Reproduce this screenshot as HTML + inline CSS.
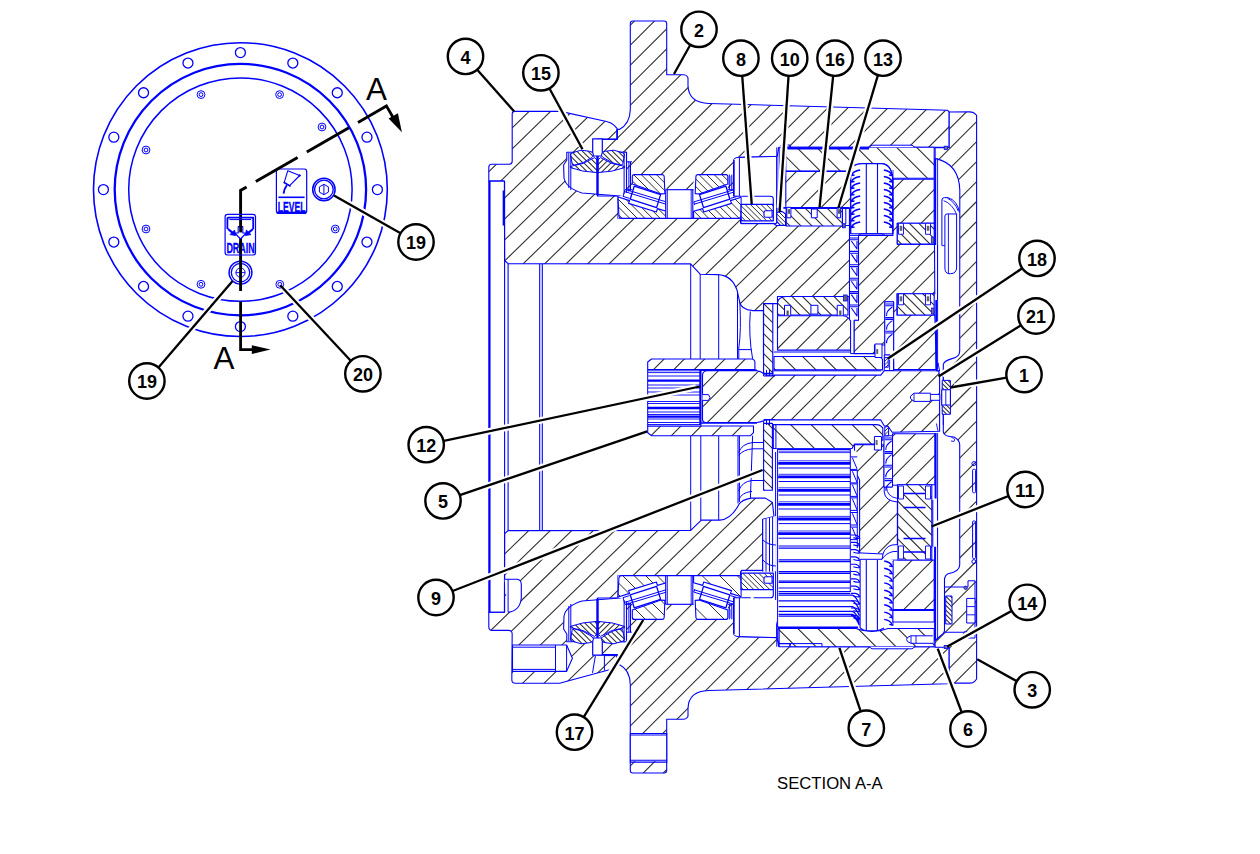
<!DOCTYPE html>
<html><head><meta charset="utf-8"><title>Final drive section</title>
<style>
html,body{margin:0;padding:0;background:#fff;}
body{width:1260px;height:854px;overflow:hidden;font-family:"Liberation Sans",sans-serif;}
svg{display:block;}
text{font-family:"Liberation Sans",sans-serif;}
</style></head><body>
<svg width="1260" height="854" viewBox="0 0 1260 854">
<defs>
<clipPath id="c1"><path d="M504.4 181L488.8 181L488.8 167.2Q488.8 164.2 491.8 164.2L509.2 164.2Q512.2 164.2 512.2 161.2L512.2 113.9Q512.2 111.4 514.7 111.4L560 111.4L566 112.6L606.51 121.43Q611.4 122.5 614.2 125.45L617 128.4L617.2 139.4L597.5 139.4L597.5 196L618 196L618 218.4L740.6 218.4L740.6 223.2L773.2 223.2L776.4 225.5L849.5 225.5L849.5 296.5L777.5 296.5L777.5 303.6L763.8 303.6L763.4 310.6L752.9 310.6Q741 309.5 739.7 301.8L737.1 290.4Q732 275.2 717.8 274.6L700.2 274.2L690.6 263.9L508.1 263.7L504.6 260.5Z"/></clipPath>
<clipPath id="c2"><path d="M504.4 612.2L488.8 612.2L488.8 626.9Q488.8 630.4 492.3 630.4L508.7 630.4Q512.2 630.4 512.17 633.9L511.83 679.8Q511.8 683.3 515.3 683.3L559.6 683.3L609.4 669.8Q615.5 668 616.9 664.5L617.2 654.6L597.5 654.6L597.5 598L618 598L618 575.6L740.6 575.6L740.6 571.6L762.7 571.6L762.7 519.4L774 516.6L772.4 502.5L765.4 498.1L751.3 498.1Q742 499.5 739 504.3Q731 519.6 719.7 520.1L701.3 520.1L690.7 530.4L508.1 530.6L504.6 533.6Z"/></clipPath>
<clipPath id="c3"><path d="M630.3 23.5Q630.3 21 632.8 21L664.2 21Q666.7 21 666.7 23.5L666.7 74.7L683.5 74.7Q686 74.7 687 76.2L688 77.7L688 85.6Q688.5 103 708.9 103.5L947.6 110.3L949.2 112L949.2 147.3L778.8 147.3L777.2 156.3L740 157.41Q737 157.5 735.6 158.75L734.2 160L734.2 189.7L626.5 189.7L626.5 152.3L597.5 152.3L597.5 139.4L617.2 139.4L617.3 129.4L619.3 129.4Q630 124 630.3 109.5Z"/></clipPath>
<clipPath id="c4"><path d="M630.3 770.5Q630.3 773 632.8 773L664.2 773Q666.7 773 666.7 770.5L666.7 719.3L683.5 719.3Q686 719.3 687 717.8L688 716.3L688 708.4Q688.5 691 708.9 690.5L947.6 683.7L949.2 682L949.2 646.7L778.8 646.7L777.2 637.7L740 636.59Q737 636.5 735.6 635.25L734.2 634L734.2 604.3L626.5 604.3L626.5 641.7L597.5 641.7L597.5 654.6L617.2 654.6L617.3 664.6L619.3 664.6Q630 670 630.3 684.5Z"/></clipPath>
<clipPath id="c5"><path d="M949.2 112L969.7 111.83Q973.2 111.8 974.9 113.6L976.6 115.4L976.6 679L974.9 681.05Q973.2 683.1 969.7 683.1L949.2 683.1L949.2 647.2L935.1 647.2L935.1 640.5L943.3 633.5L944.5 631L944.5 578.5Q945.5 574.8 948 573.8Q959.7 571.5 959.7 565L959.7 444.5Q959.6 440 954 437Q943.6 436.5 943.3 432L943.3 364.5Q943.8 361 952 358.6Q959.7 357 959.7 351L959.8 190Q959 164 936 158.6L935.1 158.4L935.1 147.6L949.2 147.6Z"/></clipPath>
<clipPath id="c6"><path d="M785.8 147.3L934.2 147.3L934.2 178.3L892.6 178.3Q891.5 164 881 163.6L862 163.6Q851.5 164 850.8 171.3L785.8 171.3Z"/></clipPath>
<clipPath id="c7"><path d="M777.9 628.5L856 628.5Q864 631.5 872 631.5Q880 631.5 888 628.5L934.2 628.5L934.2 646.7L790 646.7L790 643.6L779 643.6L777.9 640Z"/></clipPath>
<clipPath id="c8"><path d="M785.8 171.3L850.8 171.3L850.8 208L785.8 208Z"/></clipPath>
<clipPath id="c9"><path d="M702.5 375.7Q702.5 370.7 707.5 370.7L757 370.7Q761 371 765.7 375.1L880.8 375.1L884.3 370.7L938.7 370.7L939.6 376.9L939.6 431.3L892.2 432.2L887.8 426L884.3 426L880.8 419.9L765.7 419.9Q761 422 757 422.5L705.5 422.5Q702.5 422.5 702.5 419.5Z"/></clipPath>
<clipPath id="c10"><path d="M892.9 179.2L934.2 179.2L934.2 223.3L897.3 223.3L897.3 244.1L934.5 244.1L934.8 293.8L897 293.8L897 315L934.8 315L936.6 369.5L893.6 369.5L893.6 301.8L884.8 301.8L884.8 345L874.5 345L874.5 353.6L854 353.6L854 320.2L858.5 320.2L858.5 235.4L892.9 235.4Z"/></clipPath>
<clipPath id="c11"><path d="M854.5 444.8L884 444.8L884 487L892.5 487L892.5 433.8L935 433.8L935 484.7L897.4 484.7L897.4 560L892.9 560L884 553.7L859.6 553.7L859.6 480L854.5 470Z"/></clipPath>
<clipPath id="c12"><path d="M892.9 560L934.2 560L934.2 610L892.9 610Z"/></clipPath>
<clipPath id="c13"><path d="M570.59 155.46Q570.2 153.5 572.11 152.92L581 150.2L589.72 151.29Q592.2 151.6 593.2 153.89L593.2 153.91Q594.2 156.2 592.03 157.44L583 162.6L574.52 165.05Q572.6 165.6 572.21 163.64Z"/></clipPath>
<clipPath id="c14"><path d="M624.41 155.46Q624.8 153.5 622.89 152.92L614 150.2L605.28 151.29Q602.8 151.6 601.8 153.89L601.8 153.91Q600.8 156.2 602.97 157.44L612 162.6L620.48 165.05Q622.4 165.6 622.79 163.64Z"/></clipPath>
<clipPath id="c15"><path d="M570.4 166.4L583.2 163.4L594.6 157.6L597.1 160L597.1 172.6Q582 172 570.4 167.6Z"/></clipPath>
<clipPath id="c16"><path d="M624.6 166.4L611.8 163.4L600.4 157.6L597.9 160L597.9 172.6Q613 172 624.6 167.6Z"/></clipPath>
<clipPath id="c17"><path d="M570.59 638.54Q570.2 640.5 572.11 641.08L581 643.8L589.72 642.71Q592.2 642.4 593.2 640.11L593.2 640.09Q594.2 637.8 592.03 636.56L583 631.4L574.52 628.95Q572.6 628.4 572.21 630.36Z"/></clipPath>
<clipPath id="c18"><path d="M624.41 638.54Q624.8 640.5 622.89 641.08L614 643.8L605.28 642.71Q602.8 642.4 601.8 640.11L601.8 640.09Q600.8 637.8 602.97 636.56L612 631.4L620.48 628.95Q622.4 628.4 622.79 630.36Z"/></clipPath>
<clipPath id="c19"><path d="M570.4 627.6L583.2 630.6L594.6 636.4L597.1 634L597.1 621.4Q582 622 570.4 626.4Z"/></clipPath>
<clipPath id="c20"><path d="M624.6 627.6L611.8 630.6L600.4 636.4L597.9 634L597.9 621.4Q613 622 624.6 626.4Z"/></clipPath>
<clipPath id="c21"><path d="M632.3 176.6Q632.3 174.6 634.3 174.6L662.1 174.6Q664.1 174.6 664.18 176.6L664.9 193.6L661 193.9L633.1 184.3L632.3 184Z"/></clipPath>
<clipPath id="c22"><path d="M618.05 198Q618 197 618.96 197.3L629.6 200.6L628.6 203.4L656.4 212L657.4 208.6L666.5 211.2L666.5 218.4L621.5 218.4Q619 218.4 618.88 215.9Z"/></clipPath>
<clipPath id="c23"><path d="M727.8 176.6Q727.8 174.6 725.8 174.6L698 174.6Q696 174.6 695.92 176.6L695.2 193.6L699.1 193.9L727 184.3L727.8 184Z"/></clipPath>
<clipPath id="c24"><path d="M742.05 198Q742.1 197 741.14 197.3L730.5 200.6L731.5 203.4L703.7 212L702.7 208.6L693.6 211.2L693.6 218.4L738.6 218.4Q741.1 218.4 741.22 215.9Z"/></clipPath>
<clipPath id="c25"><path d="M741.1 204.4L773.3 204.4L773.3 220.8L743.1 220.8Q741.1 220.8 741.1 218.8Z"/></clipPath>
<clipPath id="c26"><path d="M632.3 617.4Q632.3 619.4 634.3 619.4L662.1 619.4Q664.1 619.4 664.18 617.4L664.9 600.4L661 600.1L633.1 609.7L632.3 610Z"/></clipPath>
<clipPath id="c27"><path d="M618.05 596Q618 597 618.96 596.7L629.6 593.4L628.6 590.6L656.4 582L657.4 585.4L666.5 582.8L666.5 575.6L621.5 575.6Q619 575.6 618.88 578.1Z"/></clipPath>
<clipPath id="c28"><path d="M727.8 617.4Q727.8 619.4 725.8 619.4L698 619.4Q696 619.4 695.92 617.4L695.2 600.4L699.1 600.1L727 609.7L727.8 610Z"/></clipPath>
<clipPath id="c29"><path d="M742.05 596Q742.1 597 741.14 596.7L730.5 593.4L731.5 590.6L703.7 582L702.7 585.4L693.6 582.8L693.6 575.6L738.6 575.6Q741.1 575.6 741.22 578.1Z"/></clipPath>
<clipPath id="c30"><path d="M741.1 589.6L773.3 589.6L773.3 573.2L743.1 573.2Q741.1 573.2 741.1 575.2Z"/></clipPath>
<clipPath id="c31"><path d="M776.8 212.5L782 211.4L785.6 214L785.6 225.4L780.4 225.4L776.8 221.4Z"/></clipPath>
<clipPath id="c32"><path d="M786.2 208.5L842.4 208.5L842.4 226L786.2 226Z"/></clipPath>
<clipPath id="c33"><path d="M647.7 362L651.6 359L751.7 359Q754.9 359.4 754.9 362.5L754.9 369.5L647.7 369.5Z"/></clipPath>
<clipPath id="c34"><path d="M647.7 426L753.5 426L753.5 432.7L750.5 435.7L651.6 435.7L647.7 432.7Z"/></clipPath>
<clipPath id="c35"><path d="M763.6 303.6L772.8 303.6L772.8 373.4L763.6 373.4Z"/></clipPath>
<clipPath id="c36"><path d="M763.6 423.4L772.4 423.4L772.4 490.2L763.6 490.2Z"/></clipPath>
<clipPath id="c37"><path d="M774 356.5L877.5 356.5Q880 356.5 881.25 357.9L882.5 359.3L882.5 369.9L774 369.9Z"/></clipPath>
<clipPath id="c38"><path d="M773.3 424.6L876.6 424.6Q879.6 424.6 881.2 426.3L882.8 428L882.8 440L874 444.1L854.5 444.1L852 448.5L773.3 448.5Z"/></clipPath>
<clipPath id="c39"><path d="M777.5 302.7Q778 297 786.3 296.5L848 296.5L848 315L777.5 315Z"/></clipPath>
<clipPath id="c40"><path d="M777.5 315.8L843 315.8Q846 315.8 848.22 317.82L850.6 320L850.6 350.1L777.5 350.1Z"/></clipPath>
<clipPath id="c41"><path d="M897.3 223.3L934.2 223.3L934.2 244.1L897.3 244.1Z"/></clipPath>
<clipPath id="c42"><path d="M897.3 293.8L934.2 293.8L934.2 315L897.3 315Z"/></clipPath>
<clipPath id="c43"><path d="M897.6 484.7L931.8 484.7L931.8 560L897.6 560Z"/></clipPath>
<clipPath id="c44"><path d="M884.6 357.6L888.2 357.6L888.2 367.2L884.6 367.2Z"/></clipPath>
<clipPath id="c45"><path d="M884.8 426.7L888.6 426.7L888.6 435.8L884.8 435.8Z"/></clipPath>
<clipPath id="c46"><path d="M942.2 380.4L950.4 380.4L950.4 414.3L942.2 414.3Z"/></clipPath>
<clipPath id="c47"><path d="M945.7 596L952 596L952 624L945.7 624Z"/></clipPath>
</defs>
<rect width="1260" height="854" fill="#fff"/>
<path d="M504.4 181L488.8 181L488.8 167.2Q488.8 164.2 491.8 164.2L509.2 164.2Q512.2 164.2 512.2 161.2L512.2 113.9Q512.2 111.4 514.7 111.4L560 111.4L566 112.6L606.51 121.43Q611.4 122.5 614.2 125.45L617 128.4L617.2 139.4L597.5 139.4L597.5 196L618 196L618 218.4L740.6 218.4L740.6 223.2L773.2 223.2L776.4 225.5L849.5 225.5L849.5 296.5L777.5 296.5L777.5 303.6L763.8 303.6L763.4 310.6L752.9 310.6Q741 309.5 739.7 301.8L737.1 290.4Q732 275.2 717.8 274.6L700.2 274.2L690.6 263.9L508.1 263.7L504.6 260.5Z" fill="#fff"/>
<path clip-path="url(#c1)" d="M508.65 110.4L302.08 311.6M530.15 110.4L323.58 311.6M551.65 110.4L345.08 311.6M573.15 110.4L366.58 311.6M594.65 110.4L388.08 311.6M616.15 110.4L409.58 311.6M637.65 110.4L431.08 311.6M659.15 110.4L452.58 311.6M680.65 110.4L474.08 311.6M702.15 110.4L495.58 311.6M723.65 110.4L517.08 311.6M745.15 110.4L538.58 311.6M766.65 110.4L560.08 311.6M788.15 110.4L581.58 311.6M809.65 110.4L603.08 311.6M831.15 110.4L624.58 311.6M852.65 110.4L646.08 311.6M874.15 110.4L667.58 311.6M895.65 110.4L689.08 311.6M917.15 110.4L710.58 311.6M938.65 110.4L732.08 311.6M960.15 110.4L753.58 311.6M981.65 110.4L775.08 311.6M1003.15 110.4L796.58 311.6M1024.65 110.4L818.08 311.6M1046.15 110.4L839.58 311.6" stroke="#303030" stroke-width="1.1" fill="none"/>
<path d="M504.4 181L488.8 181L488.8 167.2Q488.8 164.2 491.8 164.2L509.2 164.2Q512.2 164.2 512.2 161.2L512.2 113.9Q512.2 111.4 514.7 111.4L560 111.4L566 112.6L606.51 121.43Q611.4 122.5 614.2 125.45L617 128.4L617.2 139.4L597.5 139.4L597.5 196L618 196L618 218.4L740.6 218.4L740.6 223.2L773.2 223.2L776.4 225.5L849.5 225.5L849.5 296.5L777.5 296.5L777.5 303.6L763.8 303.6L763.4 310.6L752.9 310.6Q741 309.5 739.7 301.8L737.1 290.4Q732 275.2 717.8 274.6L700.2 274.2L690.6 263.9L508.1 263.7L504.6 260.5Z" fill="none" stroke="#0000ff" stroke-width="1.1" stroke-linejoin="round"/>
<path d="M504.4 612.2L488.8 612.2L488.8 626.9Q488.8 630.4 492.3 630.4L508.7 630.4Q512.2 630.4 512.17 633.9L511.83 679.8Q511.8 683.3 515.3 683.3L559.6 683.3L609.4 669.8Q615.5 668 616.9 664.5L617.2 654.6L597.5 654.6L597.5 598L618 598L618 575.6L740.6 575.6L740.6 571.6L762.7 571.6L762.7 519.4L774 516.6L772.4 502.5L765.4 498.1L751.3 498.1Q742 499.5 739 504.3Q731 519.6 719.7 520.1L701.3 520.1L690.7 530.4L508.1 530.6L504.6 533.6Z" fill="#fff"/>
<path clip-path="url(#c2)" d="M498.63 497.1L306.43 684.3M520.13 497.1L327.93 684.3M541.63 497.1L349.43 684.3M563.13 497.1L370.93 684.3M584.63 497.1L392.43 684.3M606.13 497.1L413.93 684.3M627.63 497.1L435.43 684.3M649.13 497.1L456.93 684.3M670.63 497.1L478.43 684.3M692.13 497.1L499.93 684.3M713.63 497.1L521.43 684.3M735.13 497.1L542.93 684.3M756.63 497.1L564.43 684.3M778.13 497.1L585.93 684.3M799.63 497.1L607.43 684.3M821.13 497.1L628.93 684.3M842.63 497.1L650.43 684.3M864.13 497.1L671.93 684.3M885.63 497.1L693.43 684.3M907.13 497.1L714.93 684.3M928.63 497.1L736.43 684.3M950.13 497.1L757.93 684.3" stroke="#303030" stroke-width="1.1" fill="none"/>
<path d="M504.4 612.2L488.8 612.2L488.8 626.9Q488.8 630.4 492.3 630.4L508.7 630.4Q512.2 630.4 512.17 633.9L511.83 679.8Q511.8 683.3 515.3 683.3L559.6 683.3L609.4 669.8Q615.5 668 616.9 664.5L617.2 654.6L597.5 654.6L597.5 598L618 598L618 575.6L740.6 575.6L740.6 571.6L762.7 571.6L762.7 519.4L774 516.6L772.4 502.5L765.4 498.1L751.3 498.1Q742 499.5 739 504.3Q731 519.6 719.7 520.1L701.3 520.1L690.7 530.4L508.1 530.6L504.6 533.6Z" fill="none" stroke="#0000ff" stroke-width="1.1" stroke-linejoin="round"/>
<path d="M630.3 23.5Q630.3 21 632.8 21L664.2 21Q666.7 21 666.7 23.5L666.7 74.7L683.5 74.7Q686 74.7 687 76.2L688 77.7L688 85.6Q688.5 103 708.9 103.5L947.6 110.3L949.2 112L949.2 147.3L778.8 147.3L777.2 156.3L740 157.41Q737 157.5 735.6 158.75L734.2 160L734.2 189.7L626.5 189.7L626.5 152.3L597.5 152.3L597.5 139.4L617.2 139.4L617.3 129.4L619.3 129.4Q630 124 630.3 109.5Z" fill="#fff"/>
<path clip-path="url(#c3)" d="M615.46 20L444.76 190.7M635.48 20L464.78 190.7M655.5 20L484.8 190.7M675.52 20L504.82 190.7M695.54 20L524.84 190.7M715.56 20L544.86 190.7M735.58 20L564.88 190.7M755.6 20L584.9 190.7M775.62 20L604.92 190.7M795.64 20L624.94 190.7M815.66 20L644.96 190.7M835.68 20L664.98 190.7M855.7 20L685 190.7M875.72 20L705.02 190.7M895.74 20L725.04 190.7M915.76 20L745.06 190.7M935.78 20L765.08 190.7M955.8 20L785.1 190.7M975.82 20L805.12 190.7M995.84 20L825.14 190.7M1015.86 20L845.16 190.7M1035.88 20L865.18 190.7M1055.9 20L885.2 190.7M1075.92 20L905.22 190.7M1095.94 20L925.24 190.7M1115.96 20L945.26 190.7" stroke="#303030" stroke-width="1.1" fill="none"/>
<path d="M630.3 23.5Q630.3 21 632.8 21L664.2 21Q666.7 21 666.7 23.5L666.7 74.7L683.5 74.7Q686 74.7 687 76.2L688 77.7L688 85.6Q688.5 103 708.9 103.5L947.6 110.3L949.2 112L949.2 147.3L778.8 147.3L777.2 156.3L740 157.41Q737 157.5 735.6 158.75L734.2 160L734.2 189.7L626.5 189.7L626.5 152.3L597.5 152.3L597.5 139.4L617.2 139.4L617.3 129.4L619.3 129.4Q630 124 630.3 109.5Z" fill="none" stroke="#0000ff" stroke-width="1.1" stroke-linejoin="round"/>
<path d="M630.3 770.5Q630.3 773 632.8 773L664.2 773Q666.7 773 666.7 770.5L666.7 719.3L683.5 719.3Q686 719.3 687 717.8L688 716.3L688 708.4Q688.5 691 708.9 690.5L947.6 683.7L949.2 682L949.2 646.7L778.8 646.7L777.2 637.7L740 636.59Q737 636.5 735.6 635.25L734.2 634L734.2 604.3L626.5 604.3L626.5 641.7L597.5 641.7L597.5 654.6L617.2 654.6L617.3 664.6L619.3 664.6Q630 670 630.3 684.5Z" fill="#fff"/>
<path clip-path="url(#c4)" d="M612.74 603.3L442.04 774M632.76 603.3L462.06 774M652.78 603.3L482.08 774M672.8 603.3L502.1 774M692.82 603.3L522.12 774M712.84 603.3L542.14 774M732.86 603.3L562.16 774M752.88 603.3L582.18 774M772.9 603.3L602.2 774M792.92 603.3L622.22 774M812.94 603.3L642.24 774M832.96 603.3L662.26 774M852.98 603.3L682.28 774M873 603.3L702.3 774M893.02 603.3L722.32 774M913.04 603.3L742.34 774M933.06 603.3L762.36 774M953.08 603.3L782.38 774M973.1 603.3L802.4 774M993.12 603.3L822.42 774M1013.14 603.3L842.44 774M1033.16 603.3L862.46 774M1053.18 603.3L882.48 774M1073.2 603.3L902.5 774M1093.22 603.3L922.52 774M1113.24 603.3L942.54 774" stroke="#303030" stroke-width="1.1" fill="none"/>
<path d="M630.3 770.5Q630.3 773 632.8 773L664.2 773Q666.7 773 666.7 770.5L666.7 719.3L683.5 719.3Q686 719.3 687 717.8L688 716.3L688 708.4Q688.5 691 708.9 690.5L947.6 683.7L949.2 682L949.2 646.7L778.8 646.7L777.2 637.7L740 636.59Q737 636.5 735.6 635.25L734.2 634L734.2 604.3L626.5 604.3L626.5 641.7L597.5 641.7L597.5 654.6L617.2 654.6L617.3 664.6L619.3 664.6Q630 670 630.3 684.5Z" fill="none" stroke="#0000ff" stroke-width="1.1" stroke-linejoin="round"/>
<path d="M630.3 734.2L666.7 734.2L666.7 761.3L630.3 761.3Z" fill="#fff"/>
<path d="M630.3 733.5L666.7 733.5M630.3 735L666.7 735M630.3 760.3L666.7 760.3M630.3 762.1L666.7 762.1M630.3 733L630.3 763M666.7 733L666.7 763" stroke="#0000ff" stroke-width="1.1" fill="none"/>
<path d="M949.2 112L969.7 111.83Q973.2 111.8 974.9 113.6L976.6 115.4L976.6 679L974.9 681.05Q973.2 683.1 969.7 683.1L949.2 683.1L949.2 647.2L935.1 647.2L935.1 640.5L943.3 633.5L944.5 631L944.5 578.5Q945.5 574.8 948 573.8Q959.7 571.5 959.7 565L959.7 444.5Q959.6 440 954 437Q943.6 436.5 943.3 432L943.3 364.5Q943.8 361 952 358.6Q959.7 357 959.7 351L959.8 190Q959 164 936 158.6L935.1 158.4L935.1 147.6L949.2 147.6Z" fill="#fff"/>
<path clip-path="url(#c5)" d="M947.53 110.8L374.23 684.1M967.5 110.8L394.2 684.1M987.47 110.8L414.17 684.1M1007.44 110.8L434.14 684.1M1027.41 110.8L454.11 684.1M1047.38 110.8L474.08 684.1M1067.35 110.8L494.05 684.1M1087.32 110.8L514.02 684.1M1107.29 110.8L533.99 684.1M1127.26 110.8L553.96 684.1M1147.23 110.8L573.93 684.1M1167.2 110.8L593.9 684.1M1187.17 110.8L613.87 684.1M1207.14 110.8L633.84 684.1M1227.11 110.8L653.81 684.1M1247.08 110.8L673.78 684.1M1267.05 110.8L693.75 684.1M1287.02 110.8L713.72 684.1M1306.99 110.8L733.69 684.1M1326.96 110.8L753.66 684.1M1346.93 110.8L773.63 684.1M1366.9 110.8L793.6 684.1M1386.87 110.8L813.57 684.1M1406.84 110.8L833.54 684.1M1426.81 110.8L853.51 684.1M1446.78 110.8L873.48 684.1M1466.75 110.8L893.45 684.1M1486.72 110.8L913.42 684.1M1506.69 110.8L933.39 684.1M1526.66 110.8L953.36 684.1M1546.63 110.8L973.33 684.1" stroke="#303030" stroke-width="1.1" fill="none"/>
<path d="M949.2 112L969.7 111.83Q973.2 111.8 974.9 113.6L976.6 115.4L976.6 679L974.9 681.05Q973.2 683.1 969.7 683.1L949.2 683.1L949.2 647.2L935.1 647.2L935.1 640.5L943.3 633.5L944.5 631L944.5 578.5Q945.5 574.8 948 573.8Q959.7 571.5 959.7 565L959.7 444.5Q959.6 440 954 437Q943.6 436.5 943.3 432L943.3 364.5Q943.8 361 952 358.6Q959.7 357 959.7 351L959.8 190Q959 164 936 158.6L935.1 158.4L935.1 147.6L949.2 147.6Z" fill="none" stroke="#0000ff" stroke-width="1.1" stroke-linejoin="round"/>
<path d="M785.8 147.3L934.2 147.3L934.2 178.3L892.6 178.3Q891.5 164 881 163.6L862 163.6Q851.5 164 850.8 171.3L785.8 171.3Z" fill="#fff"/>
<path clip-path="url(#c6)" d="M755.6 146.3L788.6 179.3M775.6 146.3L808.6 179.3M795.6 146.3L828.6 179.3M815.6 146.3L848.6 179.3M835.6 146.3L868.6 179.3M855.6 146.3L888.6 179.3M875.6 146.3L908.6 179.3M895.6 146.3L928.6 179.3M915.6 146.3L948.6 179.3" stroke="#303030" stroke-width="1.1" fill="none"/>
<path d="M785.8 147.3L934.2 147.3L934.2 178.3L892.6 178.3Q891.5 164 881 163.6L862 163.6Q851.5 164 850.8 171.3L785.8 171.3Z" fill="none" stroke="#0000ff" stroke-width="1.1" stroke-linejoin="round"/>
<path d="M777.9 628.5L856 628.5Q864 631.5 872 631.5Q880 631.5 888 628.5L934.2 628.5L934.2 646.7L790 646.7L790 643.6L779 643.6L777.9 640Z" fill="#fff"/>
<path clip-path="url(#c7)" d="M756.8 627.5L777 647.7M776.8 627.5L797 647.7M796.8 627.5L817 647.7M816.8 627.5L837 647.7M836.8 627.5L857 647.7M856.8 627.5L877 647.7M876.8 627.5L897 647.7M896.8 627.5L917 647.7M916.8 627.5L937 647.7" stroke="#303030" stroke-width="1.1" fill="none"/>
<path d="M777.9 628.5L856 628.5Q864 631.5 872 631.5Q880 631.5 888 628.5L934.2 628.5L934.2 646.7L790 646.7L790 643.6L779 643.6L777.9 640Z" fill="none" stroke="#0000ff" stroke-width="1.1" stroke-linejoin="round"/>
<path d="M785.8 171.3L850.8 171.3L850.8 208L785.8 208Z" fill="#fff"/>
<path clip-path="url(#c8)" d="M797.7 170.3L759 209M817.9 170.3L779.2 209M838.1 170.3L799.4 209M858.3 170.3L819.6 209M878.5 170.3L839.8 209" stroke="#303030" stroke-width="1.1" fill="none"/>
<path d="M785.8 171.3L850.8 171.3L850.8 208L785.8 208Z" fill="none" stroke="#0000ff" stroke-width="1.1" stroke-linejoin="round"/>
<path d="M702.5 375.7Q702.5 370.7 707.5 370.7L757 370.7Q761 371 765.7 375.1L880.8 375.1L884.3 370.7L938.7 370.7L939.6 376.9L939.6 431.3L892.2 432.2L887.8 426L884.3 426L880.8 419.9L765.7 419.9Q761 422 757 422.5L705.5 422.5Q702.5 422.5 702.5 419.5Z" fill="#fff"/>
<path clip-path="url(#c9)" d="M719.5 369.7L656 433.2M739.8 369.7L676.3 433.2M760.1 369.7L696.6 433.2M780.4 369.7L716.9 433.2M800.7 369.7L737.2 433.2M821 369.7L757.5 433.2M841.3 369.7L777.8 433.2M861.6 369.7L798.1 433.2M881.9 369.7L818.4 433.2M902.2 369.7L838.7 433.2M922.5 369.7L859 433.2M942.8 369.7L879.3 433.2M963.1 369.7L899.6 433.2M983.4 369.7L919.9 433.2M1003.7 369.7L940.2 433.2" stroke="#303030" stroke-width="1.1" fill="none"/>
<path d="M702.5 375.7Q702.5 370.7 707.5 370.7L757 370.7Q761 371 765.7 375.1L880.8 375.1L884.3 370.7L938.7 370.7L939.6 376.9L939.6 431.3L892.2 432.2L887.8 426L884.3 426L880.8 419.9L765.7 419.9Q761 422 757 422.5L705.5 422.5Q702.5 422.5 702.5 419.5Z" fill="none" stroke="#0000ff" stroke-width="1.1" stroke-linejoin="round"/>
<path d="M892.9 179.2L934.2 179.2L934.2 223.3L897.3 223.3L897.3 244.1L934.5 244.1L934.8 293.8L897 293.8L897 315L934.8 315L936.6 369.5L893.6 369.5L893.6 301.8L884.8 301.8L884.8 345L874.5 345L874.5 353.6L854 353.6L854 320.2L858.5 320.2L858.5 235.4L892.9 235.4Z" fill="#fff"/>
<path clip-path="url(#c10)" d="M863.6 178.2L671.3 370.5M884.1 178.2L691.8 370.5M904.6 178.2L712.3 370.5M925.1 178.2L732.8 370.5M945.6 178.2L753.3 370.5M966.1 178.2L773.8 370.5M986.6 178.2L794.3 370.5M1007.1 178.2L814.8 370.5M1027.6 178.2L835.3 370.5M1048.1 178.2L855.8 370.5M1068.6 178.2L876.3 370.5M1089.1 178.2L896.8 370.5M1109.6 178.2L917.3 370.5" stroke="#303030" stroke-width="1.1" fill="none"/>
<path d="M892.9 179.2L934.2 179.2L934.2 223.3L897.3 223.3L897.3 244.1L934.5 244.1L934.8 293.8L897 293.8L897 315L934.8 315L936.6 369.5L893.6 369.5L893.6 301.8L884.8 301.8L884.8 345L874.5 345L874.5 353.6L854 353.6L854 320.2L858.5 320.2L858.5 235.4L892.9 235.4Z" fill="none" stroke="#0000ff" stroke-width="1.1" stroke-linejoin="round"/>
<path d="M854.5 444.8L884 444.8L884 487L892.5 487L892.5 433.8L935 433.8L935 484.7L897.4 484.7L897.4 560L892.9 560L884 553.7L859.6 553.7L859.6 480L854.5 470Z" fill="#fff"/>
<path clip-path="url(#c11)" d="M855 432.8L726.8 561M875.5 432.8L747.3 561M896 432.8L767.8 561M916.5 432.8L788.3 561M937 432.8L808.8 561M957.5 432.8L829.3 561M978 432.8L849.8 561M998.5 432.8L870.3 561M1019 432.8L890.8 561M1039.5 432.8L911.3 561M1060 432.8L931.8 561" stroke="#303030" stroke-width="1.1" fill="none"/>
<path d="M854.5 444.8L884 444.8L884 487L892.5 487L892.5 433.8L935 433.8L935 484.7L897.4 484.7L897.4 560L892.9 560L884 553.7L859.6 553.7L859.6 480L854.5 470Z" fill="none" stroke="#0000ff" stroke-width="1.1" stroke-linejoin="round"/>
<path d="M892.9 560L934.2 560L934.2 610L892.9 610Z" fill="#fff"/>
<path clip-path="url(#c12)" d="M892.8 559L840.8 611M913.3 559L861.3 611M933.8 559L881.8 611M954.3 559L902.3 611M974.8 559L922.8 611" stroke="#303030" stroke-width="1.1" fill="none"/>
<path d="M892.9 560L934.2 560L934.2 610L892.9 610Z" fill="none" stroke="#0000ff" stroke-width="1.1" stroke-linejoin="round"/>
<path d="M566.8 152.3L626.5 152.3L626.5 196.6L623.3 196.2L582 193Q566 188 564 178L563.6 165L566.8 160Z" fill="#fff"/>
<path d="M566.8 152.3L626.5 152.3L626.5 196.6L623.3 196.2L582 193Q566 188 564 178L563.6 165L566.8 160Z" fill="none" stroke="#0000ff" stroke-width="1.1" stroke-linejoin="round"/>
<path d="M592.7 138.8L602.3 138.8L602.3 156L592.7 156Z" fill="#fff"/>
<path d="M592.7 138.8L602.3 138.8L602.3 156L592.7 156Z" fill="none" stroke="#0000ff" stroke-width="1.2" stroke-linejoin="round"/>
<path d="M570.59 155.46Q570.2 153.5 572.11 152.92L581 150.2L589.72 151.29Q592.2 151.6 593.2 153.89L593.2 153.91Q594.2 156.2 592.03 157.44L583 162.6L574.52 165.05Q572.6 165.6 572.21 163.64Z" fill="#fff"/>
<path clip-path="url(#c13)" d="M552.4 149.2L569.8 166.6M558 149.2L575.4 166.6M563.6 149.2L581 166.6M569.2 149.2L586.6 166.6M574.8 149.2L592.2 166.6M580.4 149.2L597.8 166.6M586 149.2L603.4 166.6M591.6 149.2L609 166.6" stroke="#303030" stroke-width="1.05" fill="none"/>
<path d="M570.59 155.46Q570.2 153.5 572.11 152.92L581 150.2L589.72 151.29Q592.2 151.6 593.2 153.89L593.2 153.91Q594.2 156.2 592.03 157.44L583 162.6L574.52 165.05Q572.6 165.6 572.21 163.64Z" fill="none" stroke="#0000ff" stroke-width="1" stroke-linejoin="round"/>
<path d="M624.41 155.46Q624.8 153.5 622.89 152.92L614 150.2L605.28 151.29Q602.8 151.6 601.8 153.89L601.8 153.91Q600.8 156.2 602.97 157.44L612 162.6L620.48 165.05Q622.4 165.6 622.79 163.64Z" fill="#fff"/>
<path clip-path="url(#c14)" d="M582.4 149.2L599.8 166.6M588 149.2L605.4 166.6M593.6 149.2L611 166.6M599.2 149.2L616.6 166.6M604.8 149.2L622.2 166.6M610.4 149.2L627.8 166.6M616 149.2L633.4 166.6M621.6 149.2L639 166.6" stroke="#303030" stroke-width="1.05" fill="none"/>
<path d="M624.41 155.46Q624.8 153.5 622.89 152.92L614 150.2L605.28 151.29Q602.8 151.6 601.8 153.89L601.8 153.91Q600.8 156.2 602.97 157.44L612 162.6L620.48 165.05Q622.4 165.6 622.79 163.64Z" fill="none" stroke="#0000ff" stroke-width="1" stroke-linejoin="round"/>
<path d="M570.4 166.4L583.2 163.4L594.6 157.6L597.1 160L597.1 172.6Q582 172 570.4 167.6Z" fill="#fff"/>
<path clip-path="url(#c15)" d="M555.2 156.6L572.2 173.6M560.8 156.6L577.8 173.6M566.4 156.6L583.4 173.6M572 156.6L589 173.6M577.6 156.6L594.6 173.6M583.2 156.6L600.2 173.6M588.8 156.6L605.8 173.6M594.4 156.6L611.4 173.6" stroke="#303030" stroke-width="1.05" fill="none"/>
<path d="M570.4 166.4L583.2 163.4L594.6 157.6L597.1 160L597.1 172.6Q582 172 570.4 167.6Z" fill="none" stroke="#0000ff" stroke-width="1" stroke-linejoin="round"/>
<path d="M624.6 166.4L611.8 163.4L600.4 157.6L597.9 160L597.9 172.6Q613 172 624.6 167.6Z" fill="#fff"/>
<path clip-path="url(#c16)" d="M600.4 156.6L583.4 173.6M606 156.6L589 173.6M611.6 156.6L594.6 173.6M617.2 156.6L600.2 173.6M622.8 156.6L605.8 173.6M628.4 156.6L611.4 173.6M634 156.6L617 173.6M639.6 156.6L622.6 173.6" stroke="#303030" stroke-width="1.05" fill="none"/>
<path d="M624.6 166.4L611.8 163.4L600.4 157.6L597.9 160L597.9 172.6Q613 172 624.6 167.6Z" fill="none" stroke="#0000ff" stroke-width="1" stroke-linejoin="round"/>
<path d="M597.5 156L597.5 195.4" stroke="#0000ff" stroke-width="2.4" fill="none" />
<path d="M570.8 153L570.8 190M568.8 153L568.8 188M624.1 153L624.1 196.4M628.9 161.8L628.9 196.9M630.5 161.8L630.5 196.9M626.5 161.8L632 161.8" stroke="#0000ff" stroke-width="1" fill="none"/>
<path d="M602.3 139.4L617.2 139.4M617.2 139.4L617.2 129.4" stroke="#0000ff" stroke-width="1.3" fill="none"/>
<path d="M566.8 641.7L626.5 641.7L626.5 597.4L623.3 597.8L582 601Q566 606 564 616L563.6 629L566.8 634Z" fill="#fff"/>
<path d="M566.8 641.7L626.5 641.7L626.5 597.4L623.3 597.8L582 601Q566 606 564 616L563.6 629L566.8 634Z" fill="none" stroke="#0000ff" stroke-width="1.1" stroke-linejoin="round"/>
<path d="M592.7 655.2L602.3 655.2L602.3 638L592.7 638Z" fill="#fff"/>
<path d="M592.7 655.2L602.3 655.2L602.3 638L592.7 638Z" fill="none" stroke="#0000ff" stroke-width="1.2" stroke-linejoin="round"/>
<path d="M570.59 638.54Q570.2 640.5 572.11 641.08L581 643.8L589.72 642.71Q592.2 642.4 593.2 640.11L593.2 640.09Q594.2 637.8 592.03 636.56L583 631.4L574.52 628.95Q572.6 628.4 572.21 630.36Z" fill="#fff"/>
<path clip-path="url(#c17)" d="M554.6 627.4L572 644.8M560.2 627.4L577.6 644.8M565.8 627.4L583.2 644.8M571.4 627.4L588.8 644.8M577 627.4L594.4 644.8M582.6 627.4L600 644.8M588.2 627.4L605.6 644.8M593.8 627.4L611.2 644.8" stroke="#303030" stroke-width="1.05" fill="none"/>
<path d="M570.59 638.54Q570.2 640.5 572.11 641.08L581 643.8L589.72 642.71Q592.2 642.4 593.2 640.11L593.2 640.09Q594.2 637.8 592.03 636.56L583 631.4L574.52 628.95Q572.6 628.4 572.21 630.36Z" fill="none" stroke="#0000ff" stroke-width="1" stroke-linejoin="round"/>
<path d="M624.41 638.54Q624.8 640.5 622.89 641.08L614 643.8L605.28 642.71Q602.8 642.4 601.8 640.11L601.8 640.09Q600.8 637.8 602.97 636.56L612 631.4L620.48 628.95Q622.4 628.4 622.79 630.36Z" fill="#fff"/>
<path clip-path="url(#c18)" d="M584.6 627.4L602 644.8M590.2 627.4L607.6 644.8M595.8 627.4L613.2 644.8M601.4 627.4L618.8 644.8M607 627.4L624.4 644.8M612.6 627.4L630 644.8M618.2 627.4L635.6 644.8M623.8 627.4L641.2 644.8" stroke="#303030" stroke-width="1.05" fill="none"/>
<path d="M624.41 638.54Q624.8 640.5 622.89 641.08L614 643.8L605.28 642.71Q602.8 642.4 601.8 640.11L601.8 640.09Q600.8 637.8 602.97 636.56L612 631.4L620.48 628.95Q622.4 628.4 622.79 630.36Z" fill="none" stroke="#0000ff" stroke-width="1" stroke-linejoin="round"/>
<path d="M570.4 627.6L583.2 630.6L594.6 636.4L597.1 634L597.1 621.4Q582 622 570.4 626.4Z" fill="#fff"/>
<path clip-path="url(#c19)" d="M554.2 620.4L571.2 637.4M559.8 620.4L576.8 637.4M565.4 620.4L582.4 637.4M571 620.4L588 637.4M576.6 620.4L593.6 637.4M582.2 620.4L599.2 637.4M587.8 620.4L604.8 637.4M593.4 620.4L610.4 637.4" stroke="#303030" stroke-width="1.05" fill="none"/>
<path d="M570.4 627.6L583.2 630.6L594.6 636.4L597.1 634L597.1 621.4Q582 622 570.4 626.4Z" fill="none" stroke="#0000ff" stroke-width="1" stroke-linejoin="round"/>
<path d="M624.6 627.6L611.8 630.6L600.4 636.4L597.9 634L597.9 621.4Q613 622 624.6 626.4Z" fill="#fff"/>
<path clip-path="url(#c20)" d="M601.4 620.4L584.4 637.4M607 620.4L590 637.4M612.6 620.4L595.6 637.4M618.2 620.4L601.2 637.4M623.8 620.4L606.8 637.4M629.4 620.4L612.4 637.4M635 620.4L618 637.4M640.6 620.4L623.6 637.4" stroke="#303030" stroke-width="1.05" fill="none"/>
<path d="M624.6 627.6L611.8 630.6L600.4 636.4L597.9 634L597.9 621.4Q613 622 624.6 626.4Z" fill="none" stroke="#0000ff" stroke-width="1" stroke-linejoin="round"/>
<path d="M597.5 638L597.5 598.6" stroke="#0000ff" stroke-width="2.4" fill="none" />
<path d="M570.8 641L570.8 604M568.8 641L568.8 606M624.1 641L624.1 597.6M628.9 632.2L628.9 597.1M630.5 632.2L630.5 597.1M626.5 632.2L632 632.2" stroke="#0000ff" stroke-width="1" fill="none"/>
<path d="M602.3 654.6L617.2 654.6M617.2 654.6L617.2 664.6" stroke="#0000ff" stroke-width="1.3" fill="none"/>
<path d="M632.3 174.6L666.5 174.6L666.5 218.4L618 218.4L618 196.9L632.3 190Z" fill="#fff"/>
<path d="M632.3 176.6Q632.3 174.6 634.3 174.6L662.1 174.6Q664.1 174.6 664.18 176.6L664.9 193.6L661 193.9L633.1 184.3L632.3 184Z" fill="#fff"/>
<path clip-path="url(#c21)" d="M617.4 173.6L638.7 194.9M625 173.6L646.3 194.9M632.6 173.6L653.9 194.9M640.2 173.6L661.5 194.9M647.8 173.6L669.1 194.9M655.4 173.6L676.7 194.9M663 173.6L684.3 194.9" stroke="#303030" stroke-width="1" fill="none"/>
<path d="M632.3 176.6Q632.3 174.6 634.3 174.6L662.1 174.6Q664.1 174.6 664.18 176.6L664.9 193.6L661 193.9L633.1 184.3L632.3 184Z" fill="none" stroke="#0000ff" stroke-width="1.1" stroke-linejoin="round"/>
<path d="M618.05 198Q618 197 618.96 197.3L629.6 200.6L628.6 203.4L656.4 212L657.4 208.6L666.5 211.2L666.5 218.4L621.5 218.4Q619 218.4 618.88 215.9Z" fill="#fff"/>
<path clip-path="url(#c22)" d="M599.8 196L623.2 219.4M607.4 196L630.8 219.4M615 196L638.4 219.4M622.6 196L646 219.4M630.2 196L653.6 219.4M637.8 196L661.2 219.4M645.4 196L668.8 219.4M653 196L676.4 219.4M660.6 196L684 219.4" stroke="#303030" stroke-width="1" fill="none"/>
<path d="M618.05 198Q618 197 618.96 197.3L629.6 200.6L628.6 203.4L656.4 212L657.4 208.6L666.5 211.2L666.5 218.4L621.5 218.4Q619 218.4 618.88 215.9Z" fill="none" stroke="#0000ff" stroke-width="1.1" stroke-linejoin="round"/>
<path d="M634.2 186.2L660.6 194.6L656.6 207.6L630.2 199.2Z" fill="#fff"/>
<path d="M634.2 186.2L660.6 194.6L656.6 207.6L630.2 199.2Z" fill="none" stroke="#0000ff" stroke-width="1.3" stroke-linejoin="round"/>
<path d="M625.2 189.4L666.3 201.9" stroke="#0000ff" stroke-width="1" fill="none" stroke-linejoin="round" />
<path d="M624.6 191.6L665.7 204.1" stroke="#0000ff" stroke-width="1" fill="none" stroke-linejoin="round" />
<path d="M625.2 189.4L623 196.4L629.6 198.4" stroke="#0000ff" stroke-width="1" fill="none" stroke-linejoin="round" />
<path d="M666.3 201.9L665.4 204.9" stroke="#0000ff" stroke-width="1" fill="none" stroke-linejoin="round" />
<path d="M727.8 174.6L693.6 174.6L693.6 218.4L742.1 218.4L742.1 196.9L727.8 190Z" fill="#fff"/>
<path d="M727.8 176.6Q727.8 174.6 725.8 174.6L698 174.6Q696 174.6 695.92 176.6L695.2 193.6L699.1 193.9L727 184.3L727.8 184Z" fill="#fff"/>
<path clip-path="url(#c23)" d="M675.2 173.6L696.5 194.9M682.8 173.6L704.1 194.9M690.4 173.6L711.7 194.9M698 173.6L719.3 194.9M705.6 173.6L726.9 194.9M713.2 173.6L734.5 194.9M720.8 173.6L742.1 194.9M728.4 173.6L749.7 194.9" stroke="#303030" stroke-width="1" fill="none"/>
<path d="M727.8 176.6Q727.8 174.6 725.8 174.6L698 174.6Q696 174.6 695.92 176.6L695.2 193.6L699.1 193.9L727 184.3L727.8 184Z" fill="none" stroke="#0000ff" stroke-width="1.1" stroke-linejoin="round"/>
<path d="M742.05 198Q742.1 197 741.14 197.3L730.5 200.6L731.5 203.4L703.7 212L702.7 208.6L693.6 211.2L693.6 218.4L738.6 218.4Q741.1 218.4 741.22 215.9Z" fill="#fff"/>
<path clip-path="url(#c24)" d="M671.2 196L694.6 219.4M678.8 196L702.2 219.4M686.4 196L709.8 219.4M694 196L717.4 219.4M701.6 196L725 219.4M709.2 196L732.6 219.4M716.8 196L740.2 219.4M724.4 196L747.8 219.4M732 196L755.4 219.4M739.6 196L763 219.4" stroke="#303030" stroke-width="1" fill="none"/>
<path d="M742.05 198Q742.1 197 741.14 197.3L730.5 200.6L731.5 203.4L703.7 212L702.7 208.6L693.6 211.2L693.6 218.4L738.6 218.4Q741.1 218.4 741.22 215.9Z" fill="none" stroke="#0000ff" stroke-width="1.1" stroke-linejoin="round"/>
<path d="M725.9 186.2L699.5 194.6L703.5 207.6L729.9 199.2Z" fill="#fff"/>
<path d="M725.9 186.2L699.5 194.6L703.5 207.6L729.9 199.2Z" fill="none" stroke="#0000ff" stroke-width="1.3" stroke-linejoin="round"/>
<path d="M734.9 189.4L693.8 201.9" stroke="#0000ff" stroke-width="1" fill="none" stroke-linejoin="round" />
<path d="M735.5 191.6L694.4 204.1" stroke="#0000ff" stroke-width="1" fill="none" stroke-linejoin="round" />
<path d="M734.9 189.4L737.1 196.4L730.5 198.4" stroke="#0000ff" stroke-width="1" fill="none" stroke-linejoin="round" />
<path d="M693.8 201.9L694.7 204.9" stroke="#0000ff" stroke-width="1" fill="none" stroke-linejoin="round" />
<path d="M665.7 189.7L692.8 189.7L692.8 218.4L665.7 218.4Z" fill="#fff"/>
<path d="M665.7 189.7L692.8 189.7L692.8 218.4L665.7 218.4Z" fill="none" stroke="#0000ff" stroke-width="1.1" stroke-linejoin="round"/>
<path d="M667.3 189.7L667.3 218.4M691.2 189.7L691.2 218.4" stroke="#0000ff" stroke-width="0.9" fill="none"/>
<path d="M733.5 169Q733.5 164 733.5 160.8L733.5 160.8Q733.5 157.6 738.5 157.46L776.8 156.4L776.8 223.4L741.1 223.4L741.1 196.2L733.5 196.2Z" fill="#fff"/>
<path d="M733.5 169Q733.5 164 733.5 160.8L733.5 160.8Q733.5 157.6 738.5 157.46L776.8 156.4L776.8 223.4L741.1 223.4L741.1 196.2L733.5 196.2Z" fill="none" stroke="#0000ff" stroke-width="1" stroke-linejoin="round"/>
<path d="M729.4 174.6L729.4 190M731.8 174.6L731.8 190M734.2 160L734.2 196.2M739.4 157.6L739.4 196.2" stroke="#0000ff" stroke-width="1" fill="none"/>
<rect x="727.8" y="176" width="3.6" height="9" fill="#4d4dff" opacity="0.55"/>
<path d="M741.7 196.2 L770.5 196.2 Q773.3 196.2 773.3 199 L773.3 204.4" stroke="#0000ff" stroke-width="1.1" fill="none" stroke-linejoin="round" stroke-dasharray="9 3 30 0"/>
<path d="M741.1 204.4L773.3 204.4L773.3 220.8L743.1 220.8Q741.1 220.8 741.1 218.8Z" fill="#fff"/>
<path clip-path="url(#c25)" d="M722.8 203.4L741.2 221.8M728.1 203.4L746.5 221.8M733.4 203.4L751.8 221.8M738.7 203.4L757.1 221.8M744 203.4L762.4 221.8M749.3 203.4L767.7 221.8M754.6 203.4L773 221.8M759.9 203.4L778.3 221.8M765.2 203.4L783.6 221.8M770.5 203.4L788.9 221.8" stroke="#303030" stroke-width="1" fill="none"/>
<path d="M741.1 204.4L773.3 204.4L773.3 220.8L743.1 220.8Q741.1 220.8 741.1 218.8Z" fill="none" stroke="#0000ff" stroke-width="1.2" stroke-linejoin="round"/>
<path d="M764 212.3Q764 210.8 765.5 210.8L772.1 210.8L772.1 217.3L765.5 217.3Q764 217.3 764 215.8Z" fill="#fff"/>
<path d="M764 212.3Q764 210.8 765.5 210.8L772.1 210.8L772.1 217.3L765.5 217.3Q764 217.3 764 215.8Z" fill="none" stroke="#0000ff" stroke-width="1.1" stroke-linejoin="round"/>
<path d="M741.1 223.7L773.3 223.7" stroke="#0000ff" stroke-width="1" fill="none"/>
<path d="M776.8 147.3L776.8 223M779.2 147.3L779.2 210" stroke="#0000ff" stroke-width="1" fill="none"/>
<path d="M632.3 619.4L666.5 619.4L666.5 575.6L618 575.6L618 597.1L632.3 604Z" fill="#fff"/>
<path d="M632.3 617.4Q632.3 619.4 634.3 619.4L662.1 619.4Q664.1 619.4 664.18 617.4L664.9 600.4L661 600.1L633.1 609.7L632.3 610Z" fill="#fff"/>
<path clip-path="url(#c26)" d="M613.6 599.1L634.9 620.4M625.1 599.1L646.4 620.4M636.6 599.1L657.9 620.4M648.1 599.1L669.4 620.4M659.6 599.1L680.9 620.4" stroke="#303030" stroke-width="1" fill="none"/>
<path d="M632.3 617.4Q632.3 619.4 634.3 619.4L662.1 619.4Q664.1 619.4 664.18 617.4L664.9 600.4L661 600.1L633.1 609.7L632.3 610Z" fill="none" stroke="#0000ff" stroke-width="1.1" stroke-linejoin="round"/>
<path d="M618.05 596Q618 597 618.96 596.7L629.6 593.4L628.6 590.6L656.4 582L657.4 585.4L666.5 582.8L666.5 575.6L621.5 575.6Q619 575.6 618.88 578.1Z" fill="#fff"/>
<path clip-path="url(#c27)" d="M598.6 574.6L622 598M610.1 574.6L633.5 598M621.6 574.6L645 598M633.1 574.6L656.5 598M644.6 574.6L668 598M656.1 574.6L679.5 598" stroke="#303030" stroke-width="1" fill="none"/>
<path d="M618.05 596Q618 597 618.96 596.7L629.6 593.4L628.6 590.6L656.4 582L657.4 585.4L666.5 582.8L666.5 575.6L621.5 575.6Q619 575.6 618.88 578.1Z" fill="none" stroke="#0000ff" stroke-width="1.1" stroke-linejoin="round"/>
<path d="M634.2 607.8L660.6 599.4L656.6 586.4L630.2 594.8Z" fill="#fff"/>
<path d="M634.2 607.8L660.6 599.4L656.6 586.4L630.2 594.8Z" fill="none" stroke="#0000ff" stroke-width="1.3" stroke-linejoin="round"/>
<path d="M625.2 604.6L666.3 592.1" stroke="#0000ff" stroke-width="1" fill="none" stroke-linejoin="round" />
<path d="M624.6 602.4L665.7 589.9" stroke="#0000ff" stroke-width="1" fill="none" stroke-linejoin="round" />
<path d="M625.2 604.6L623 597.6L629.6 595.6" stroke="#0000ff" stroke-width="1" fill="none" stroke-linejoin="round" />
<path d="M666.3 592.1L665.4 589.1" stroke="#0000ff" stroke-width="1" fill="none" stroke-linejoin="round" />
<path d="M727.8 619.4L693.6 619.4L693.6 575.6L742.1 575.6L742.1 597.1L727.8 604Z" fill="#fff"/>
<path d="M727.8 617.4Q727.8 619.4 725.8 619.4L698 619.4Q696 619.4 695.92 617.4L695.2 600.4L699.1 600.1L727 609.7L727.8 610Z" fill="#fff"/>
<path clip-path="url(#c28)" d="M686.6 599.1L707.9 620.4M704.1 599.1L725.4 620.4M721.6 599.1L742.9 620.4" stroke="#303030" stroke-width="1" fill="none"/>
<path d="M727.8 617.4Q727.8 619.4 725.8 619.4L698 619.4Q696 619.4 695.92 617.4L695.2 600.4L699.1 600.1L727 609.7L727.8 610Z" fill="none" stroke="#0000ff" stroke-width="1.1" stroke-linejoin="round"/>
<path d="M742.05 596Q742.1 597 741.14 596.7L730.5 593.4L731.5 590.6L703.7 582L702.7 585.4L693.6 582.8L693.6 575.6L738.6 575.6Q741.1 575.6 741.22 578.1Z" fill="#fff"/>
<path clip-path="url(#c29)" d="M683.6 574.6L707 598M701.1 574.6L724.5 598M718.6 574.6L742 598M736.1 574.6L759.5 598" stroke="#303030" stroke-width="1" fill="none"/>
<path d="M742.05 596Q742.1 597 741.14 596.7L730.5 593.4L731.5 590.6L703.7 582L702.7 585.4L693.6 582.8L693.6 575.6L738.6 575.6Q741.1 575.6 741.22 578.1Z" fill="none" stroke="#0000ff" stroke-width="1.1" stroke-linejoin="round"/>
<path d="M725.9 607.8L699.5 599.4L703.5 586.4L729.9 594.8Z" fill="#fff"/>
<path d="M725.9 607.8L699.5 599.4L703.5 586.4L729.9 594.8Z" fill="none" stroke="#0000ff" stroke-width="1.3" stroke-linejoin="round"/>
<path d="M734.9 604.6L693.8 592.1" stroke="#0000ff" stroke-width="1" fill="none" stroke-linejoin="round" />
<path d="M735.5 602.4L694.4 589.9" stroke="#0000ff" stroke-width="1" fill="none" stroke-linejoin="round" />
<path d="M734.9 604.6L737.1 597.6L730.5 595.6" stroke="#0000ff" stroke-width="1" fill="none" stroke-linejoin="round" />
<path d="M693.8 592.1L694.7 589.1" stroke="#0000ff" stroke-width="1" fill="none" stroke-linejoin="round" />
<path d="M665.7 604.3L692.8 604.3L692.8 575.6L665.7 575.6Z" fill="#fff"/>
<path d="M665.7 604.3L692.8 604.3L692.8 575.6L665.7 575.6Z" fill="none" stroke="#0000ff" stroke-width="1.1" stroke-linejoin="round"/>
<path d="M667.3 604.3L667.3 575.6M691.2 604.3L691.2 575.6" stroke="#0000ff" stroke-width="0.9" fill="none"/>
<path d="M733.5 625Q733.5 630 733.5 633.2L733.5 633.2Q733.5 636.4 738.5 636.54L776.8 637.6L776.8 570.6L741.1 570.6L741.1 597.8L733.5 597.8Z" fill="#fff"/>
<path d="M733.5 625Q733.5 630 733.5 633.2L733.5 633.2Q733.5 636.4 738.5 636.54L776.8 637.6L776.8 570.6L741.1 570.6L741.1 597.8L733.5 597.8Z" fill="none" stroke="#0000ff" stroke-width="1" stroke-linejoin="round"/>
<path d="M729.4 619.4L729.4 604M731.8 619.4L731.8 604M734.2 634L734.2 597.8M739.4 636.4L739.4 597.8" stroke="#0000ff" stroke-width="1" fill="none"/>
<rect x="727.8" y="609" width="3.6" height="9" fill="#4d4dff" opacity="0.55"/>
<path d="M741.7 597.8 L770.5 597.8 Q773.3 597.8 773.3 595 L773.3 589.6" stroke="#0000ff" stroke-width="1.1" fill="none" stroke-linejoin="round" stroke-dasharray="9 3 30 0"/>
<path d="M741.1 589.6L773.3 589.6L773.3 573.2L743.1 573.2Q741.1 573.2 741.1 575.2Z" fill="#fff"/>
<path clip-path="url(#c30)" d="M725.9 572.2L744.3 590.6M731.2 572.2L749.6 590.6M736.5 572.2L754.9 590.6M741.8 572.2L760.2 590.6M747.1 572.2L765.5 590.6M752.4 572.2L770.8 590.6M757.7 572.2L776.1 590.6M763 572.2L781.4 590.6M768.3 572.2L786.7 590.6M773.6 572.2L792 590.6" stroke="#303030" stroke-width="1" fill="none"/>
<path d="M741.1 589.6L773.3 589.6L773.3 573.2L743.1 573.2Q741.1 573.2 741.1 575.2Z" fill="none" stroke="#0000ff" stroke-width="1.2" stroke-linejoin="round"/>
<path d="M764 581.7Q764 583.2 765.5 583.2L772.1 583.2L772.1 576.7L765.5 576.7Q764 576.7 764 578.2Z" fill="#fff"/>
<path d="M764 581.7Q764 583.2 765.5 583.2L772.1 583.2L772.1 576.7L765.5 576.7Q764 576.7 764 578.2Z" fill="none" stroke="#0000ff" stroke-width="1.1" stroke-linejoin="round"/>
<path d="M741.1 570.3L773.3 570.3" stroke="#0000ff" stroke-width="1" fill="none"/>
<path d="M776.8 646.7L776.8 571M779.2 646.7L779.2 584" stroke="#0000ff" stroke-width="1" fill="none"/>
<path d="M776.8 212.5L782 211.4L785.6 214L785.6 225.4L780.4 225.4L776.8 221.4Z" fill="#fff"/>
<path clip-path="url(#c31)" d="M760.6 210.4L776.6 226.4M764.8 210.4L780.8 226.4M769 210.4L785 226.4M773.2 210.4L789.2 226.4M777.4 210.4L793.4 226.4M781.6 210.4L797.6 226.4M785.8 210.4L801.8 226.4" stroke="#303030" stroke-width="1" fill="none"/>
<path d="M776.8 212.5L782 211.4L785.6 214L785.6 225.4L780.4 225.4L776.8 221.4Z" fill="none" stroke="#0000ff" stroke-width="1.1" stroke-linejoin="round"/>
<path d="M786.2 208.5L842.4 208.5L842.4 226L786.2 226Z" fill="#fff"/>
<path clip-path="url(#c32)" d="M771.5 207.5L791 227M782.5 207.5L802 227M793.5 207.5L813 227M804.5 207.5L824 227M815.5 207.5L835 227M826.5 207.5L846 227M837.5 207.5L857 227" stroke="#303030" stroke-width="1.05" fill="none"/>
<path d="M786.2 208.5L842.4 208.5L842.4 226L786.2 226Z" fill="none" stroke="#0000ff" stroke-width="1.2" stroke-linejoin="round"/>
<path d="M783.3 207.9L849.4 207.9" stroke="#0000ff" stroke-width="1.8" fill="none" />
<path d="M811.4 209L817.2 209L817.2 217.8L811.4 217.8Z" fill="#fff"/>
<path d="M811.4 209L817.2 209L817.2 217.8L811.4 217.8Z" fill="none" stroke="#0000ff" stroke-width="1" stroke-linejoin="round"/>
<path d="M786.8 207.3L790.9 207.3L790.9 217.8L786.8 217.8Z" fill="#fff"/>
<path d="M786.8 207.3L790.9 207.3L790.9 217.8L786.8 217.8Z" fill="none" stroke="#0000ff" stroke-width="1" stroke-linejoin="round"/>
<rect x="787.8" y="209.2" width="2.2" height="4.6" fill="#555"/>
<path d="M837.1 207.3L840.6 207.3L840.6 217.8L837.1 217.8Z" fill="#fff"/>
<path d="M837.1 207.3L840.6 207.3L840.6 217.8L837.1 217.8Z" fill="none" stroke="#0000ff" stroke-width="1" stroke-linejoin="round"/>
<rect x="838.1" y="209.2" width="2.2" height="4.6" fill="#555"/>
<rect x="842.4" y="223.7" width="2.9" height="4.1" fill="#666" stroke="#0000ff" stroke-width="0.8"/>
<path d="M842.4 208.5L849.4 208.5M845.8 208.5L845.8 224M849.4 208.5L849.4 226" stroke="#0000ff" stroke-width="1" fill="none"/>
<path d="M489.4 181L489.4 612.2" stroke="#0000ff" stroke-width="2.3" fill="none"/>
<path d="M488.8 181L504.4 181M488.8 612.2L504.4 612.2M504.6 181L504.6 612.2M508.1 263.7L508.1 530.5M539.7 263.7L539.7 530.5M542.3 263.7L542.3 530.5" stroke="#0000ff" stroke-width="1.1" fill="none"/>
<path d="M503.4 190.5L503.4 225.5" stroke="#0000ff" stroke-width="1.5" fill="none"/>
<path d="M690.7 263.9L690.7 358.9" stroke="#0000ff" stroke-width="1" fill="none"/>
<path d="M700.2 274.2L700.2 358.9" stroke="#0000ff" stroke-width="1" fill="none"/>
<path d="M718.7 274.6L718.7 358.9" stroke="#0000ff" stroke-width="1" fill="none"/>
<path d="M737.5 291L737.5 358.9" stroke="#0000ff" stroke-width="1" fill="none"/>
<path d="M690.7 435.7L690.7 530.4" stroke="#0000ff" stroke-width="1" fill="none"/>
<path d="M700.8 435.7L700.8 520.1" stroke="#0000ff" stroke-width="1" fill="none"/>
<path d="M718.7 435.7L718.7 520.1" stroke="#0000ff" stroke-width="1" fill="none"/>
<path d="M750.3 311.5 Q748.4 335 752.6 358.9 M739.8 302 Q741.4 330 738.8 348 L738.8 358.9 M738.8 349.6 L751.4 349.6" stroke="#0000ff" stroke-width="1" fill="none" stroke-linejoin="round" />
<path d="M763.4 310.6 L763.4 358.9" stroke="#0000ff" stroke-width="1" fill="none" stroke-linejoin="round" />
<path d="M738 436 L738 503.5 M739.4 436 L739.4 502 M738.6 452.5 Q742 443.6 753 442.5 L763.4 442.5 M738.8 455.4 Q743 449.6 753 448.8 L763.4 448.8 M738.6 491 Q742 481.5 752 480.5 L763.4 480.5 M738.8 499.4 Q742 492.6 750.6 491.6 L752 491.4 M752.6 435.7 L750.4 498.4" stroke="#0000ff" stroke-width="1" fill="none" stroke-linejoin="round" />
<path d="M504.6 579.2 L516.9 579.2 Q521.3 579.6 521.3 584.4 L521.3 598 Q520 611 508.1 612.2" stroke="#0000ff" stroke-width="1.1" fill="#fff" stroke-linejoin="round" />
<path d="M508.1 579.2L508.1 612.2" stroke="#0000ff" stroke-width="1" fill="none"/>
<path d="M512.5 645 L566.6 645 L572.4 658.2 L566.6 671.4 L512.5 671.4 Z" stroke="#0000ff" stroke-width="1.1" fill="#fff" stroke-linejoin="round" />
<path d="M512.5 647.2L555.5 647.2M512.5 669.4L555.5 669.4M555.5 645L555.5 671.4M566.6 645L566.6 671.4" stroke="#0000ff" stroke-width="1" fill="none"/>
<path d="M595.4 655.8 L592.5 672.9 M604.4 655.8 L604.4 670.6 M603.4 655.6 L617.2 655.6" stroke="#0000ff" stroke-width="1" fill="none" stroke-linejoin="round" />
<path d="M647.7 362L651.6 359L751.7 359Q754.9 359.4 754.9 362.5L754.9 369.5L647.7 369.5Z" fill="#fff"/>
<path clip-path="url(#c33)" d="M665.1 358L652.6 370.5M685.4 358L672.9 370.5M705.7 358L693.2 370.5M726 358L713.5 370.5M746.3 358L733.8 370.5M766.6 358L754.1 370.5" stroke="#303030" stroke-width="1.1" fill="none"/>
<path d="M647.7 362L651.6 359L751.7 359Q754.9 359.4 754.9 362.5L754.9 369.5L647.7 369.5Z" fill="none" stroke="#0000ff" stroke-width="1.1" stroke-linejoin="round"/>
<path d="M647.7 426L753.5 426L753.5 432.7L750.5 435.7L651.6 435.7L647.7 432.7Z" fill="#fff"/>
<path clip-path="url(#c34)" d="M661.7 425L650 436.7M682 425L670.3 436.7M702.3 425L690.6 436.7M722.6 425L710.9 436.7M742.9 425L731.2 436.7M763.2 425L751.5 436.7" stroke="#303030" stroke-width="1.1" fill="none"/>
<path d="M647.7 426L753.5 426L753.5 432.7L750.5 435.7L651.6 435.7L647.7 432.7Z" fill="none" stroke="#0000ff" stroke-width="1.1" stroke-linejoin="round"/>
<path d="M647.7 369.5L700.8 369.5L700.8 426L647.7 426Z" fill="#fff"/>
<path d="M647.7 369.5L700.8 369.5L700.8 426L647.7 426Z" fill="none" stroke="#0000ff" stroke-width="1" stroke-linejoin="round"/>
<path d="M647.7 370.8L700.8 370.8M647.7 372.6L700.8 372.6M647.7 376L700.8 376M647.7 385L700.8 385M647.7 388L700.8 388M647.7 392L700.8 392M647.7 395L700.8 395M647.7 401.5L700.8 401.5M647.7 403.5L700.8 403.5M647.7 412L700.8 412M647.7 414.5L700.8 414.5M647.7 419L700.8 419M647.7 422.5L700.8 422.5M647.7 424.5L700.8 424.5" stroke="#0000ff" stroke-width="0.9" fill="none"/>
<path d="M647.7 380.6L700.8 380.6M647.7 408L700.8 408M647.7 416.6L700.8 416.6" stroke="#0000ff" stroke-width="2.4" fill="none"/>
<path d="M700.3 370L700.3 425" stroke="#0000ff" stroke-width="2" fill="none"/>
<path d="M702.5 394.6 L708.5 394.6 Q711.4 397.5 708.5 400.4 L702.5 400.4" stroke="#0000ff" stroke-width="1" fill="#fff" stroke-linejoin="round" />
<path d="M701 370.2L757 370.2M701 423L757 423" stroke="#0000ff" stroke-width="1.6" fill="none"/>
<path d="M763.6 303.6L772.8 303.6L772.8 373.4L763.6 373.4Z" fill="#fff"/>
<path clip-path="url(#c35)" d="M692.6 302.6L764.4 374.4M702.6 302.6L774.4 374.4M712.6 302.6L784.4 374.4M722.6 302.6L794.4 374.4M732.6 302.6L804.4 374.4M742.6 302.6L814.4 374.4M752.6 302.6L824.4 374.4M762.6 302.6L834.4 374.4M772.6 302.6L844.4 374.4" stroke="#303030" stroke-width="1.1" fill="none"/>
<path d="M763.6 303.6L772.8 303.6L772.8 373.4L763.6 373.4Z" fill="none" stroke="#0000ff" stroke-width="1.1" stroke-linejoin="round"/>
<path d="M763.6 423.4L772.4 423.4L772.4 490.2L763.6 490.2Z" fill="#fff"/>
<path clip-path="url(#c36)" d="M696.4 422.4L765.2 491.2M706.4 422.4L775.2 491.2M716.4 422.4L785.2 491.2M726.4 422.4L795.2 491.2M736.4 422.4L805.2 491.2M746.4 422.4L815.2 491.2M756.4 422.4L825.2 491.2M766.4 422.4L835.2 491.2" stroke="#303030" stroke-width="1.1" fill="none"/>
<path d="M763.6 423.4L772.4 423.4L772.4 490.2L763.6 490.2Z" fill="none" stroke="#0000ff" stroke-width="1.1" stroke-linejoin="round"/>
<path d="M763.6 373.4L763.6 376M763.6 376L775 376M766.5 369.9L766.5 376M769.5 369.9L769.5 376M772.8 369.9L772.8 376M763.6 421L763.6 423.4M763.6 419.5L775 419.5M766.5 419.5L766.5 425M769.5 419.5L769.5 425" stroke="#0000ff" stroke-width="1" fill="none"/>
<path d="M774 356.5L877.5 356.5Q880 356.5 881.25 357.9L882.5 359.3L882.5 369.9L774 369.9Z" fill="#fff"/>
<path clip-path="url(#c37)" d="M761 355.5L776.4 370.9M781.3 355.5L796.7 370.9M801.6 355.5L817 370.9M821.9 355.5L837.3 370.9M842.2 355.5L857.6 370.9M862.5 355.5L877.9 370.9M882.8 355.5L898.2 370.9" stroke="#303030" stroke-width="1.1" fill="none"/>
<path d="M774 356.5L877.5 356.5Q880 356.5 881.25 357.9L882.5 359.3L882.5 369.9L774 369.9Z" fill="none" stroke="#0000ff" stroke-width="1.1" stroke-linejoin="round"/>
<path d="M773.3 424.6L876.6 424.6Q879.6 424.6 881.2 426.3L882.8 428L882.8 440L874 444.1L854.5 444.1L852 448.5L773.3 448.5Z" fill="#fff"/>
<path clip-path="url(#c38)" d="M748.6 423.6L774.5 449.5M769.1 423.6L795 449.5M789.6 423.6L815.5 449.5M810.1 423.6L836 449.5M830.6 423.6L856.5 449.5M851.1 423.6L877 449.5M871.6 423.6L897.5 449.5" stroke="#303030" stroke-width="1.1" fill="none"/>
<path d="M773.3 424.6L876.6 424.6Q879.6 424.6 881.2 426.3L882.8 428L882.8 440L874 444.1L854.5 444.1L852 448.5L773.3 448.5Z" fill="none" stroke="#0000ff" stroke-width="1.1" stroke-linejoin="round"/>
<path d="M774 370.8L881 370.8M774 352L850 352" stroke="#0000ff" stroke-width="1" fill="none"/>
<path d="M874.4 436.5L881.5 436.5L881.5 450L874.4 450Z" fill="#fff"/>
<path d="M874.4 436.5L881.5 436.5L881.5 450L874.4 450Z" fill="none" stroke="#0000ff" stroke-width="1" stroke-linejoin="round"/>
<path d="M875 344L882 344L882 357.5L875 357.5Z" fill="#fff"/>
<path d="M875 344L882 344L882 357.5L875 357.5Z" fill="none" stroke="#0000ff" stroke-width="1" stroke-linejoin="round"/>
<rect x="875.6" y="440" width="2" height="5" fill="#666"/>
<rect x="876.2" y="349" width="2" height="5" fill="#666"/>
<path d="M777.5 302.7Q778 297 786.3 296.5L848 296.5L848 315L777.5 315Z" fill="#fff"/>
<path clip-path="url(#c39)" d="M759.5 295.5L780 316M770 295.5L790.5 316M780.5 295.5L801 316M791 295.5L811.5 316M801.5 295.5L822 316M812 295.5L832.5 316M822.5 295.5L843 316M833 295.5L853.5 316M843.5 295.5L864 316" stroke="#303030" stroke-width="1.1" fill="none"/>
<path d="M777.5 302.7Q778 297 786.3 296.5L848 296.5L848 315L777.5 315Z" fill="none" stroke="#0000ff" stroke-width="1.1" stroke-linejoin="round"/>
<path d="M784.5 305.3L790.7 305.3L790.7 316.7L784.5 316.7Z" fill="#fff"/>
<path d="M784.5 305.3L790.7 305.3L790.7 316.7L784.5 316.7Z" fill="none" stroke="#0000ff" stroke-width="1" stroke-linejoin="round"/>
<rect x="786.5" y="310.5" width="2.2" height="4.6" fill="#555"/>
<path d="M837.2 305.3L843.3 305.3L843.3 316.7L837.2 316.7Z" fill="#fff"/>
<path d="M837.2 305.3L843.3 305.3L843.3 316.7L837.2 316.7Z" fill="none" stroke="#0000ff" stroke-width="1" stroke-linejoin="round"/>
<rect x="839.2" y="310.5" width="2.2" height="4.6" fill="#555"/>
<path d="M810.9 305.3L817.9 305.3L817.9 314.1L810.9 314.1Z" fill="#fff"/>
<path d="M810.9 305.3L817.9 305.3L817.9 314.1L810.9 314.1Z" fill="none" stroke="#0000ff" stroke-width="1" stroke-linejoin="round"/>
<rect x="843.6" y="295" width="3.6" height="6" fill="#666" stroke="#0000ff" stroke-width="0.8"/>
<path d="M777.5 315.8L843 315.8Q846 315.8 848.22 317.82L850.6 320L850.6 350.1L777.5 350.1Z" fill="#fff"/>
<path clip-path="url(#c40)" d="M791.1 314.8L754.8 351.1M811.3 314.8L775 351.1M831.5 314.8L795.2 351.1M851.7 314.8L815.4 351.1M871.9 314.8L835.6 351.1" stroke="#303030" stroke-width="1.1" fill="none"/>
<path d="M777.5 315.8L843 315.8Q846 315.8 848.22 317.82L850.6 320L850.6 350.1L777.5 350.1Z" fill="none" stroke="#0000ff" stroke-width="1.1" stroke-linejoin="round"/>
<path d="M897.3 223.3L934.2 223.3L934.2 244.1L897.3 244.1Z" fill="#fff"/>
<path clip-path="url(#c41)" d="M879.8 222.3L902.6 245.1M889.3 222.3L912.1 245.1M898.8 222.3L921.6 245.1M908.3 222.3L931.1 245.1M917.8 222.3L940.6 245.1M927.3 222.3L950.1 245.1" stroke="#303030" stroke-width="1.1" fill="none"/>
<path d="M897.3 223.3L934.2 223.3L934.2 244.1L897.3 244.1Z" fill="none" stroke="#0000ff" stroke-width="1.1" stroke-linejoin="round"/>
<path d="M898.5 223.3L903.5 223.3L903.5 234.3L898.5 234.3Z" fill="#fff"/>
<path d="M898.5 223.3L903.5 223.3L903.5 234.3L898.5 234.3Z" fill="none" stroke="#0000ff" stroke-width="0.9" stroke-linejoin="round"/>
<rect x="899.7" y="225.8" width="2.6" height="5" fill="#666"/>
<path d="M925.5 223.3L930.5 223.3L930.5 234.3L925.5 234.3Z" fill="#fff"/>
<path d="M925.5 223.3L930.5 223.3L930.5 234.3L925.5 234.3Z" fill="none" stroke="#0000ff" stroke-width="0.9" stroke-linejoin="round"/>
<rect x="926.7" y="225.8" width="2.6" height="5" fill="#666"/>
<rect x="931.3" y="237.1" width="2.6" height="6" fill="#777" stroke="#0000ff" stroke-width="0.7"/>
<path d="M897.3 293.8L934.2 293.8L934.2 315L897.3 315Z" fill="#fff"/>
<path clip-path="url(#c42)" d="M874.3 292.8L897.5 316M883.8 292.8L907 316M893.3 292.8L916.5 316M902.8 292.8L926 316M912.3 292.8L935.5 316M921.8 292.8L945 316M931.3 292.8L954.5 316" stroke="#303030" stroke-width="1.1" fill="none"/>
<path d="M897.3 293.8L934.2 293.8L934.2 315L897.3 315Z" fill="none" stroke="#0000ff" stroke-width="1.1" stroke-linejoin="round"/>
<path d="M898.5 293.8L903.5 293.8L903.5 304.8L898.5 304.8Z" fill="#fff"/>
<path d="M898.5 293.8L903.5 293.8L903.5 304.8L898.5 304.8Z" fill="none" stroke="#0000ff" stroke-width="0.9" stroke-linejoin="round"/>
<rect x="899.7" y="296.3" width="2.6" height="5" fill="#666"/>
<path d="M925.5 293.8L930.5 293.8L930.5 304.8L925.5 304.8Z" fill="#fff"/>
<path d="M925.5 293.8L930.5 293.8L930.5 304.8L925.5 304.8Z" fill="none" stroke="#0000ff" stroke-width="0.9" stroke-linejoin="round"/>
<rect x="926.7" y="296.3" width="2.6" height="5" fill="#666"/>
<rect x="931.3" y="308" width="2.6" height="6" fill="#777" stroke="#0000ff" stroke-width="0.7"/>
<path d="M897.6 484.7L931.8 484.7L931.8 560L897.6 560Z" fill="#fff"/>
<path clip-path="url(#c43)" d="M829.9 483.7L907.2 561M842.5 483.7L919.8 561M855.1 483.7L932.4 561M867.7 483.7L945 561M880.3 483.7L957.6 561M892.9 483.7L970.2 561M905.5 483.7L982.8 561M918.1 483.7L995.4 561M930.7 483.7L1008 561" stroke="#303030" stroke-width="1.1" fill="none"/>
<path d="M897.6 484.7L931.8 484.7L931.8 560L897.6 560Z" fill="none" stroke="#0000ff" stroke-width="1.1" stroke-linejoin="round"/>
<path d="M884.2 486 L884.2 492 Q885 501 897.5 502 L897.5 485.2 L892.5 485.2 L892.5 487 L884.2 487 Z" stroke="#0000ff" stroke-width="1" fill="#fff" stroke-linejoin="round" />
<path d="M886.5 487 Q887 497 897.5 498.4" stroke="#0000ff" stroke-width="0.9" fill="none" stroke-linejoin="round" />
<path d="M898.5 486L903.5 486L903.5 499L898.5 499Z" fill="#fff"/>
<path d="M898.5 486L903.5 486L903.5 499L898.5 499Z" fill="none" stroke="#0000ff" stroke-width="0.9" stroke-linejoin="round"/>
<path d="M898.5 546L903.5 546L903.5 559L898.5 559Z" fill="#fff"/>
<path d="M898.5 546L903.5 546L903.5 559L898.5 559Z" fill="none" stroke="#0000ff" stroke-width="0.9" stroke-linejoin="round"/>
<path d="M925.5 486L930.5 486L930.5 499L925.5 499Z" fill="#fff"/>
<path d="M925.5 486L930.5 486L930.5 499L925.5 499Z" fill="none" stroke="#0000ff" stroke-width="0.9" stroke-linejoin="round"/>
<path d="M925.5 546L930.5 546L930.5 559L925.5 559Z" fill="#fff"/>
<path d="M925.5 546L930.5 546L930.5 559L925.5 559Z" fill="none" stroke="#0000ff" stroke-width="0.9" stroke-linejoin="round"/>
<path d="M903.5 493.5L925.5 493.5M903.5 507.5L925.5 507.5M903.5 538.5L925.5 538.5M903.5 552L925.5 552" stroke="#0000ff" stroke-width="1.6" fill="none"/>
<path d="M850.8 233.7L850.8 171.3Q851.5 164 862 163.6L881 163.6Q891.5 164 892.6 178.3L892.6 233.7Z" fill="#fff"/>
<path d="M850.8 233.7L850.8 171.3Q851.5 164 862 163.6L881 163.6Q891.5 164 892.6 178.3L892.6 233.7Z" fill="none" stroke="#0000ff" stroke-width="1.1" stroke-linejoin="round"/>
<path d="M866.3 163.5L866.3 233.7M877.5 163.5L877.5 233.7" stroke="#0000ff" stroke-width="1.1" fill="none"/>
<path d="M860.2 170C856.28 170.6 852.36 172.6 851.18 175.6L854.52 175M860.2 176.5C856.28 177.1 852.36 179.1 851.18 182.1L854.52 181.5M860.2 183C856.28 183.6 852.36 185.6 851.18 188.6L854.52 188M860.2 189.5C856.28 190.1 852.36 192.1 851.18 195.1L854.52 194.5M860.2 196C856.28 196.6 852.36 198.6 851.18 201.6L854.52 201M860.2 202.5C856.28 203.1 852.36 205.1 851.18 208.1L854.52 207.5M860.2 209C856.28 209.6 852.36 211.6 851.18 214.6L854.52 214M860.2 215.5C856.28 216.1 852.36 218.1 851.18 221.1L854.52 220.5M860.2 222C856.28 222.6 852.36 224.6 851.18 227.6L854.52 227" stroke="#0000ff" stroke-width="1.5" fill="none" stroke-linejoin="round" />
<path d="M850.4 170L850.4 234" stroke="#0000ff" stroke-width="0.8" fill="none"/>
<path d="M883.8 170C887.48 170.6 891.16 172.6 892.26 175.6L889.14 175M883.8 176.5C887.48 177.1 891.16 179.1 892.26 182.1L889.14 181.5M883.8 183C887.48 183.6 891.16 185.6 892.26 188.6L889.14 188M883.8 189.5C887.48 190.1 891.16 192.1 892.26 195.1L889.14 194.5M883.8 196C887.48 196.6 891.16 198.6 892.26 201.6L889.14 201M883.8 202.5C887.48 203.1 891.16 205.1 892.26 208.1L889.14 207.5M883.8 209C887.48 209.6 891.16 211.6 892.26 214.6L889.14 214M883.8 215.5C887.48 216.1 891.16 218.1 892.26 221.1L889.14 220.5M883.8 222C887.48 222.6 891.16 224.6 892.26 227.6L889.14 227" stroke="#0000ff" stroke-width="1.5" fill="none" stroke-linejoin="round" />
<path d="M893 170L893 234" stroke="#0000ff" stroke-width="0.8" fill="none"/>
<path d="M858 235.4 Q859 233.9 862 233.7 L881 233.7 Q884 233.9 885 235.4" stroke="#0000ff" stroke-width="1" fill="none" stroke-linejoin="round" />
<path d="M849.5 235.4L858.5 235.4L858.5 320.2L854 320.2L854 353.6L850.6 353.6L850.6 320.2L849.5 320.2Z" fill="#fff"/>
<path d="M849.5 235.4L858.5 235.4L858.5 320.2L854 320.2L854 353.6L850.6 353.6L850.6 320.2L849.5 320.2Z" fill="none" stroke="#0000ff" stroke-width="1" stroke-linejoin="round"/>
<path d="M850 238 L858 238 M850 239.8 L858 239.8 M851.4 241 L857 249 L857 241M850 251.4 L858 251.4 M850 253.2 L858 253.2 M851.4 254.4 L857 262.4 L857 254.4M850 264.8 L858 264.8 M850 266.6 L858 266.6 M851.4 267.8 L857 275.8 L857 267.8M850 278.2 L858 278.2 M850 280 L858 280 M851.4 281.2 L857 289.2 L857 281.2M850 291.6 L858 291.6 M850 293.4 L858 293.4 M851.4 294.6 L857 302.6 L857 294.6M850 305 L858 305 M850 306.8 L858 306.8 M851.4 308 L857 316 L857 308" stroke="#0000ff" stroke-width="1.1" fill="none" stroke-linejoin="round" />
<path d="M849.5 208.5L849.5 235.4" stroke="#0000ff" stroke-width="1" fill="none"/>
<path d="M884.8 301.8L893.6 301.8L893.6 355L884.8 355Z" fill="#fff"/>
<path d="M884.8 301.8L893.6 301.8L893.6 355L884.8 355Z" fill="none" stroke="#0000ff" stroke-width="1" stroke-linejoin="round"/>
<path d="M885.4 304 L893 304 M885.4 305.8 L893 305.8 M892.4 307 Q886 311 886.6 316M885.4 317.6 L893 317.6 M885.4 319.4 L893 319.4 M892.4 320.6 Q886 324.6 886.6 329.6M885.4 331.2 L893 331.2 M885.4 333 L893 333 M892.4 334.2 Q886 338.2 886.6 343.2" stroke="#0000ff" stroke-width="1.1" fill="none" stroke-linejoin="round" />
<path d="M884 435.8L892.5 435.8L892.5 487L884 487Z" fill="#fff"/>
<path d="M884 435.8L892.5 435.8L892.5 487L884 487Z" fill="none" stroke="#0000ff" stroke-width="1" stroke-linejoin="round"/>
<path d="M884.6 438 L892 438 M884.6 439.8 L892 439.8 M891.6 441 Q885.4 445 885.8 450M884.6 451.6 L892 451.6 M884.6 453.4 L892 453.4 M891.6 454.6 Q885.4 458.6 885.8 463.6M884.6 465.2 L892 465.2 M884.6 467 L892 467 M891.6 468.2 Q885.4 472.2 885.8 477.2M884.6 478.8 L892 478.8 M884.6 480.6 L892 480.6 M891.6 481.8 Q885.4 485.8 885.8 490.8" stroke="#0000ff" stroke-width="1.1" fill="none" stroke-linejoin="round" />
<path d="M775.9 448.8L850.3 448.8L857.4 452L857.4 628L777.9 628L775.9 620Z" fill="#fff"/>
<path d="M777.6 448.8L777.6 627.5M775.6 452L775.6 600" stroke="#0000ff" stroke-width="1" fill="none"/>
<path d="M778 449.2L850.3 449.2" stroke="#0000ff" stroke-width="1.6" fill="none"/>
<path d="M778.7 451.2L850.3 451.2M778.7 452.6L850.3 452.6" stroke="#0000ff" stroke-width="0.8" fill="none"/>
<path d="M778.2 463.4L850.3 463.4M778.2 476.9L850.3 476.9M778.2 490.4L850.3 490.4M778.2 504.4L850.3 504.4M778.2 519L850.3 519M778.2 533.6L850.3 533.6" stroke="#0000ff" stroke-width="2.8" fill="none"/>
<path d="M778.7 460.8L850.3 460.8M778.7 474.3L850.3 474.3M778.7 487.8L850.3 487.8M778.7 501.8L850.3 501.8M778.7 516.4L850.3 516.4M778.7 531L850.3 531" stroke="#0000ff" stroke-width="0.8" fill="none"/>
<path d="M778.7 468L850.3 468M778.7 481.5L850.3 481.5M778.7 495L850.3 495M778.7 509L850.3 509M778.7 523.6L850.3 523.6M778.7 538.2L850.3 538.2" stroke="#0000ff" stroke-width="1" fill="none"/>
<path d="M778.7 546L850.3 546M778.7 548.2L850.3 548.2M778.7 559.9L850.3 559.9M778.7 561.7L850.3 561.7M778.7 571.6L850.3 571.6M778.7 573.4L850.3 573.4M778.7 581L850.3 581M778.7 582.4L850.3 582.4M778.7 588L850.3 588M778.7 591.5L850.3 591.5M778.7 593.3L850.3 593.3" stroke="#0000ff" stroke-width="1.2" fill="none"/>
<path d="M778.7 595.2 L852.5 595.2 Q856 596.7 859.4 604.2M778.7 600.9 L852.5 600.9 Q856 602.4 859.4 609.9M778.7 606.7 L852.5 606.7 Q856 608.2 859.4 615.7M778.7 611.4 L852.5 611.4 Q856 612.9 859.4 620.4M778.7 614.4 L852.5 614.4 Q856 615.9 859.4 623.4M778.7 616.2 L852.5 616.2 Q856 617.7 859.4 625.2" stroke="#0000ff" stroke-width="1.3" fill="none" stroke-linejoin="round" />
<path d="M778 627.3L858 627.3" stroke="#0000ff" stroke-width="1.5" fill="none"/>
<path d="M850.3 448.8L850.3 592M857.3 470L857.3 548" stroke="#0000ff" stroke-width="1" fill="none"/>
<path d="M850.3 456.9 L857.3 456.9 M852.4 457.8 L857 468.8 M850.3 469.4 L857.3 469.4M850.3 470.4 L857.3 470.4 M852.4 471.3 L857 482.3 M850.3 482.9 L857.3 482.9M850.3 483.9 L857.3 483.9 M852.4 484.8 L857 495.8 M850.3 496.4 L857.3 496.4M850.3 497.9 L857.3 497.9 M852.4 498.8 L857 509.8 M850.3 510.4 L857.3 510.4M850.3 512.5 L857.3 512.5 M852.4 513.4 L857 524.4 M850.3 525 L857.3 525M850.3 527.1 L857.3 527.1 M852.4 528 L857 539 M850.3 539.6 L857.3 539.6" stroke="#0000ff" stroke-width="1" fill="none" stroke-linejoin="round" />
<path d="M851 535 L855.4 535 Q858.6 535.4 859.8 538.4 Q857.5 538.8 853.4 537.6M851 542.3 L855.4 542.3 Q858.6 542.7 859.8 545.7 Q857.5 546.1 853.4 544.9M851 549.6 L855.4 549.6 Q858.6 550 859.8 553 Q857.5 553.4 853.4 552.2M851 556.9 L855.4 556.9 Q858.6 557.3 859.8 560.3 Q857.5 560.7 853.4 559.5M851 564.2 L855.4 564.2 Q858.6 564.6 859.8 567.6 Q857.5 568 853.4 566.8M851 571.5 L855.4 571.5 Q858.6 571.9 859.8 574.9 Q857.5 575.3 853.4 574.1M851 578.8 L855.4 578.8 Q858.6 579.2 859.8 582.2 Q857.5 582.6 853.4 581.4M851 586.1 L855.4 586.1 Q858.6 586.5 859.8 589.5 Q857.5 589.9 853.4 588.7M851 593.4 L855.4 593.4 Q858.6 593.8 859.8 596.8 Q857.5 597.2 853.4 596M851 600.7 L855.4 600.7 Q858.6 601.1 859.8 604.1 Q857.5 604.5 853.4 603.3M851 608 L855.4 608 Q858.6 608.4 859.8 611.4 Q857.5 611.8 853.4 610.6M851 615.3 L855.4 615.3 Q858.6 615.7 859.8 618.7 Q857.5 619.1 853.4 617.9" stroke="#0000ff" stroke-width="1.15" fill="none" stroke-linejoin="round" />
<path d="M860.1 559.4L892.9 559.4L892.9 622Q891 628.4 884 628.4Q880 630.7 875 630.7L868 630.7Q863 630.7 860.1 627.6Z" fill="#fff"/>
<path d="M860.1 555.2 L860.1 627.6 Q863 630.7 868 630.7 L875 630.7 Q880 630.7 884 628" stroke="#0000ff" stroke-width="1.1" fill="none" stroke-linejoin="round" />
<path d="M866.3 560L866.3 630.7M877.4 560L877.4 630.7" stroke="#0000ff" stroke-width="1.1" fill="none"/>
<path d="M884.2 561C887.72 561.6 891.24 563.6 892.3 566.6L889.3 566M884.2 568.3C887.72 568.9 891.24 570.9 892.3 573.9L889.3 573.3M884.2 575.6C887.72 576.2 891.24 578.2 892.3 581.2L889.3 580.6M884.2 582.9C887.72 583.5 891.24 585.5 892.3 588.5L889.3 587.9M884.2 590.2C887.72 590.8 891.24 592.8 892.3 595.8L889.3 595.2M884.2 597.5C887.72 598.1 891.24 600.1 892.3 603.1L889.3 602.5M884.2 604.8C887.72 605.4 891.24 607.4 892.3 610.4L889.3 609.8M884.2 612.1C887.72 612.7 891.24 614.7 892.3 617.7L889.3 617.1M884.2 619.4C887.72 620 891.24 622 892.3 625L889.3 624.4" stroke="#0000ff" stroke-width="1.4" fill="none" stroke-linejoin="round" />
<path d="M893 561L893 626" stroke="#0000ff" stroke-width="0.8" fill="none"/>
<path d="M859.5 552.9L883 552.9Q886 546 892 545L897.4 545L897.4 559.4L859.5 559.4Z" fill="#fff"/>
<path d="M859.5 552.9 L883 554 Q885 547 892 545 L897.4 544.6 M859.5 559.3 L882 559.3 Q886 553 893 551.6 L897.4 551.4 M883 554 L882 559.3" stroke="#0000ff" stroke-width="1" fill="none" stroke-linejoin="round" />
<path d="M892.9 610L934.2 610L934.2 622L892.9 622Z" fill="#fff"/>
<path d="M892.9 610L934.2 610L934.2 622L892.9 622Z" fill="none" stroke="#0000ff" stroke-width="1.1" stroke-linejoin="round"/>
<path d="M892.9 610L934.2 610" stroke="#0000ff" stroke-width="1.8" fill="none"/>
<path d="M763.2 519.4L775.9 516L775.9 571.2L763.2 571.2Z" fill="#fff"/>
<path d="M762.7 519.4L762.7 571.6M766 519L766 571.6M769.5 518L769.5 571.6M772.6 517L772.6 571.6" stroke="#0000ff" stroke-width="1" fill="none"/>
<path d="M763 540 Q768 545 775.9 545 M763 560 Q768 566 775.9 566" stroke="#0000ff" stroke-width="1" fill="none" stroke-linejoin="round" />
<path d="M775.9 425L775.9 449" stroke="#0000ff" stroke-width="1" fill="none"/>
<path d="M884.3 355L893.6 355L893.6 370.5L884.3 370.5Z" fill="#fff"/>
<path d="M884.3 355L893.6 355L893.6 370.5L884.3 370.5Z" fill="none" stroke="#0000ff" stroke-width="1" stroke-linejoin="round"/>
<path d="M884.6 357.6L888.2 357.6L888.2 367.2L884.6 367.2Z" fill="#fff"/>
<path clip-path="url(#c44)" d="M885.9 356.6L874.3 368.2M889.4 356.6L877.8 368.2M892.9 356.6L881.3 368.2M896.4 356.6L884.8 368.2M899.9 356.6L888.3 368.2" stroke="#303030" stroke-width="0.9" fill="none"/>
<path d="M884.6 357.6L888.2 357.6L888.2 367.2L884.6 367.2Z" fill="none" stroke="#0000ff" stroke-width="1" stroke-linejoin="round"/>
<path d="M889.6 359.6L889.6 370.5M893.6 362L893.6 370.5" stroke="#0000ff" stroke-width="0.9" fill="none"/>
<path d="M884.8 426.7L888.6 426.7L888.6 435.8L884.8 435.8Z" fill="#fff"/>
<path clip-path="url(#c45)" d="M886.8 425.7L875.7 436.8M890.3 425.7L879.2 436.8M893.8 425.7L882.7 436.8M897.3 425.7L886.2 436.8" stroke="#303030" stroke-width="0.9" fill="none"/>
<path d="M884.8 426.7L888.6 426.7L888.6 435.8L884.8 435.8Z" fill="none" stroke="#0000ff" stroke-width="1" stroke-linejoin="round"/>
<path d="M935.2 158.5L935.2 245M936.3 300L936.3 369.8M935.6 433L935.6 498.6M935.1 546.8L935.1 640.5" stroke="#0000ff" stroke-width="2" fill="none"/>
<path d="M937.5 245L937.5 300M937.5 498.6L937.5 546.8M932.8 500L932.8 546.8" stroke="#0000ff" stroke-width="1" fill="none"/>
<path d="M937.6 158.5L937.6 369.8M937.6 433L937.6 640" stroke="#0000ff" stroke-width="0.9" fill="none"/>
<path d="M941.9 245.6 L941.9 200 Q942 197.6 944.6 197.6 L948 197.7 Q957.4 200.4 959.4 212.4" stroke="#0000ff" stroke-width="1" fill="none" stroke-linejoin="round" />
<path d="M944.9 268 L944.9 216 Q945 213.9 947.4 213.9 L956.6 214 L956.6 268 Q956.2 273.6 950.6 273.7 L949 273.7 Q945 273.4 944.9 268 Z" stroke="#0000ff" stroke-width="1" fill="none" stroke-linejoin="round" />
<path d="M948.4 214L948.4 273.6M941.9 245.6L944.9 245.6" stroke="#0000ff" stroke-width="0.9" fill="none"/>
<path d="M943.6 200.6 Q952 203.6 956.4 213.8 M947.4 198.2 Q955 202 958.2 211" stroke="#0000ff" stroke-width="0.9" fill="none" stroke-linejoin="round" />
<path d="M951.5 437.5 Q956 438.6 954 441.4 L951 441" stroke="#0000ff" stroke-width="0.9" fill="none" stroke-linejoin="round" />
<path d="M938 362.8 L936.4 371 L939.6 371 Z" stroke="#0000ff" stroke-width="0.9" fill="none" stroke-linejoin="round" />
<path d="M938 431 L936.4 423.5 M943.3 371 L943.3 425" stroke="#0000ff" stroke-width="0.9" fill="none" stroke-linejoin="round" />
<path d="M942.2 380.4L950.4 380.4L950.4 414.3L942.2 414.3Z" fill="#fff"/>
<path clip-path="url(#c46)" d="M907.4 379.4L943.3 415.3M911.8 379.4L947.7 415.3M916.2 379.4L952.1 415.3M920.6 379.4L956.5 415.3M925 379.4L960.9 415.3M929.4 379.4L965.3 415.3M933.8 379.4L969.7 415.3M938.2 379.4L974.1 415.3M942.6 379.4L978.5 415.3M947 379.4L982.9 415.3M951.4 379.4L987.3 415.3" stroke="#303030" stroke-width="1.05" fill="none"/>
<path d="M942.2 380.4L950.4 380.4L950.4 414.3L942.2 414.3Z" fill="none" stroke="#0000ff" stroke-width="1" stroke-linejoin="round"/>
<path d="M941.7 389.7L950.4 389.7L950.4 405L941.7 405Z" fill="#fff"/>
<path d="M941.7 389.7L950.4 389.7L950.4 405L941.7 405Z" fill="none" stroke="#0000ff" stroke-width="1.1" stroke-linejoin="round"/>
<path d="M939.8 394.4 L930.4 394.4 L930.4 393.2 L914 393.2 L910.5 396.2 L910.5 398.6 L914 401.4 L930.4 401.4 L930.4 400.3 L939.8 400.3 Z" stroke="#0000ff" stroke-width="1" fill="#fff" stroke-linejoin="round" />
<path d="M914 393.2L914 401.4M930.4 394.4L930.4 400.3M945.8 389.7L945.8 405" stroke="#0000ff" stroke-width="0.9" fill="none"/>
<path d="M972.6 470.3Q972.6 469.3 973.6 469.3L974.6 469.3Q975.6 469.3 975.6 470.3L975.6 491.7Q975.6 492.7 974.6 492.7L973.6 492.7Q972.6 492.7 972.6 491.7Z" fill="none" stroke="#0000ff" stroke-width="1" stroke-linejoin="round"/>
<path d="M972.6 522Q972.6 521 973.6 521L974.6 521Q975.6 521 975.6 522L975.6 557.5Q975.6 558.5 974.6 558.5L973.6 558.5Q972.6 558.5 972.6 557.5Z" fill="none" stroke="#0000ff" stroke-width="1" stroke-linejoin="round"/>
<circle cx="973.9" cy="463.6" r="2" stroke="#0000ff" stroke-width="1" fill="none"/>
<circle cx="973.9" cy="561.6" r="2" stroke="#0000ff" stroke-width="1" fill="none"/>
<path d="M944.5 587L968 587M944.5 632.3L968 632.3" stroke="#0000ff" stroke-width="1.1" fill="none"/>
<path d="M968 587 L968 580.8 L975 580.8 L975 638 L968 638 L968 632.3" stroke="#0000ff" stroke-width="1" fill="none" stroke-linejoin="round" />
<path d="M945.7 596L952 596L952 624L945.7 624Z" fill="#fff"/>
<path clip-path="url(#c47)" d="M917 595L947 625M921.6 595L951.6 625M926.2 595L956.2 625M930.8 595L960.8 625M935.4 595L965.4 625M940 595L970 625M944.6 595L974.6 625M949.2 595L979.2 625" stroke="#303030" stroke-width="1.05" fill="none"/>
<path d="M945.7 596L952 596L952 624L945.7 624Z" fill="none" stroke="#0000ff" stroke-width="1" stroke-linejoin="round"/>
<path d="M966.7 598.4L975 598.4L975 623L966.7 623Z" fill="#fff"/>
<path d="M966.7 598.4L975 598.4L975 623L966.7 623Z" fill="none" stroke="#0000ff" stroke-width="1" stroke-linejoin="round"/>
<path d="M966.7 606.6L975 606.6M966.7 614.8L975 614.8" stroke="#0000ff" stroke-width="0.9" fill="none"/>
<circle cx="965.6" cy="587.8" r="1.7" fill="#777" stroke="#0000ff" stroke-width="0.8"/>
<circle cx="965.6" cy="633" r="1.7" fill="#777" stroke="#0000ff" stroke-width="0.8"/>
<rect x="944.2" y="645.4" width="3.2" height="3.2" fill="#777" stroke="#0000ff" stroke-width="0.8"/>
<rect x="944.2" y="146.2" width="3.2" height="3.2" fill="#777" stroke="#0000ff" stroke-width="0.8"/>
<path d="M932.8 635.8 L911 635.8 L907.6 637.4 L906.6 639.5 L907.6 641.7 L911 643.3 L932.8 643.3" stroke="#0000ff" stroke-width="1" fill="#fff" stroke-linejoin="round" />
<path d="M911 635.8L911 643.3M916 635.8L916 643.3" stroke="#0000ff" stroke-width="0.9" fill="none"/>
<path d="M869 147.3 L872 145.2 L912 145.2 L915 147.3" stroke="#0000ff" stroke-width="1" fill="#fff" stroke-linejoin="round" />
<path d="M869 646.7 L872 648.8 L912 648.8 L915 646.7" stroke="#0000ff" stroke-width="1" fill="#fff" stroke-linejoin="round" />
<path d="M787.4 148.3L869 148.3" stroke="#0000ff" stroke-width="2.2" fill="none"/>
<path d="M785.8 171.4 L850 171.4" stroke="#0000ff" stroke-width="1.2" fill="none" stroke-linejoin="round" stroke-dasharray="35 4.5"/>
<path d="M780.5 146 Q781 144.6 783 145 L783 150 M787.5 145 L790 145 L791 149" stroke="#0000ff" stroke-width="1" fill="none" stroke-linejoin="round" />
<path d="M790 643.6 L790 646.7 M822 643.6 L822 646.7 M790 643.6 L822 643.6" stroke="#0000ff" stroke-width="1" fill="none" stroke-linejoin="round" />
<circle cx="240.4" cy="189.6" r="146.9" stroke="#0000ff" stroke-width="1.6" fill="none"/>
<circle cx="240.4" cy="189.6" r="125.7" stroke="#0000ff" stroke-width="2.3" fill="none"/>
<circle cx="240.4" cy="189.6" r="111.7" stroke="#0000ff" stroke-width="1.5" fill="none"/>
<circle cx="240.4" cy="52.6" r="5" stroke="#0000ff" stroke-width="1.3" fill="none"/>
<circle cx="292.83" cy="63.03" r="5" stroke="#0000ff" stroke-width="1.3" fill="none"/>
<circle cx="337.27" cy="92.73" r="5" stroke="#0000ff" stroke-width="1.3" fill="none"/>
<circle cx="366.97" cy="137.17" r="5" stroke="#0000ff" stroke-width="1.3" fill="none"/>
<circle cx="377.4" cy="189.6" r="5" stroke="#0000ff" stroke-width="1.3" fill="none"/>
<circle cx="366.97" cy="242.03" r="5" stroke="#0000ff" stroke-width="1.3" fill="none"/>
<circle cx="337.27" cy="286.47" r="5" stroke="#0000ff" stroke-width="1.3" fill="none"/>
<circle cx="292.83" cy="316.17" r="5" stroke="#0000ff" stroke-width="1.3" fill="none"/>
<circle cx="240.4" cy="326.6" r="5" stroke="#0000ff" stroke-width="1.3" fill="none"/>
<circle cx="187.97" cy="316.17" r="5" stroke="#0000ff" stroke-width="1.3" fill="none"/>
<circle cx="143.53" cy="286.47" r="5" stroke="#0000ff" stroke-width="1.3" fill="none"/>
<circle cx="113.83" cy="242.03" r="5" stroke="#0000ff" stroke-width="1.3" fill="none"/>
<circle cx="103.4" cy="189.6" r="5" stroke="#0000ff" stroke-width="1.3" fill="none"/>
<circle cx="113.83" cy="137.17" r="5" stroke="#0000ff" stroke-width="1.3" fill="none"/>
<circle cx="143.53" cy="92.73" r="5" stroke="#0000ff" stroke-width="1.3" fill="none"/>
<circle cx="187.97" cy="63.03" r="5" stroke="#0000ff" stroke-width="1.3" fill="none"/>
<circle cx="201" cy="94.6" r="3.9" stroke="#0000ff" stroke-width="1" fill="none"/>
<circle cx="201" cy="94.6" r="1.9" stroke="#0000ff" stroke-width="1" fill="none"/>
<circle cx="279.6" cy="94.6" r="3.9" stroke="#0000ff" stroke-width="1" fill="none"/>
<circle cx="279.6" cy="94.6" r="1.9" stroke="#0000ff" stroke-width="1" fill="none"/>
<circle cx="322" cy="127" r="3.9" stroke="#0000ff" stroke-width="1" fill="none"/>
<circle cx="322" cy="127" r="1.9" stroke="#0000ff" stroke-width="1" fill="none"/>
<circle cx="146" cy="150" r="3.9" stroke="#0000ff" stroke-width="1" fill="none"/>
<circle cx="146" cy="150" r="1.9" stroke="#0000ff" stroke-width="1" fill="none"/>
<circle cx="146" cy="229" r="3.9" stroke="#0000ff" stroke-width="1" fill="none"/>
<circle cx="146" cy="229" r="1.9" stroke="#0000ff" stroke-width="1" fill="none"/>
<circle cx="335.3" cy="229" r="3.9" stroke="#0000ff" stroke-width="1" fill="none"/>
<circle cx="335.3" cy="229" r="1.9" stroke="#0000ff" stroke-width="1" fill="none"/>
<circle cx="201" cy="284.3" r="3.9" stroke="#0000ff" stroke-width="1" fill="none"/>
<circle cx="201" cy="284.3" r="1.9" stroke="#0000ff" stroke-width="1" fill="none"/>
<circle cx="279.8" cy="284.3" r="3.9" stroke="#0000ff" stroke-width="1" fill="none"/>
<circle cx="279.8" cy="284.3" r="1.9" stroke="#0000ff" stroke-width="1" fill="none"/>
<circle cx="323.9" cy="189.5" r="11.2" stroke="#0000ff" stroke-width="1.5" fill="none"/>
<circle cx="323.9" cy="189.5" r="9.3" stroke="#0000ff" stroke-width="1.3" fill="none"/>
<path d="M323.9 184.3L328.4 186.9L328.4 192.1L323.9 194.7L319.4 192.1L319.4 186.9Z" stroke="#0000ff" stroke-width="1" fill="none" stroke-linejoin="round" />
<path d="M323.9 184.3L323.9 194.7" stroke="#0000ff" stroke-width="1" fill="none" />
<circle cx="240.5" cy="272.6" r="11.4" stroke="#0000ff" stroke-width="1.5" fill="none"/>
<circle cx="240.5" cy="272.6" r="9.2" stroke="#0000ff" stroke-width="1.3" fill="none"/>
<circle cx="240.5" cy="272.6" r="4.6" stroke="#0000ff" stroke-width="1" fill="none"/>
<path d="M235.9 272.6L245.1 272.6" stroke="#0000ff" stroke-width="0.9" fill="none" />
<path d="M240.5 268L240.5 277.2" stroke="#0000ff" stroke-width="0.9" fill="none" />
<path d="M276.4 171.5Q276.4 169 278.9 169L304.2 169Q306.7 169 306.7 171.5L306.7 210.9Q306.7 213.4 304.2 213.4L278.9 213.4Q276.4 213.4 276.4 210.9Z" fill="none" stroke="#0000ff" stroke-width="1.2" stroke-linejoin="round"/>
<path d="M278.4 197.3L304.6 197.3" stroke="#0000ff" stroke-width="1.6" fill="none" />
<path d="M277 212.6L306 212.6" stroke="#0000ff" stroke-width="2" fill="none" />
<path d="M287.8 170.7L299.7 175.5L289.6 185.7L284.2 182.7Z" stroke="#0000ff" stroke-width="1.1" fill="none" stroke-linejoin="round" />
<path d="M286.8 185.2 Q284 189 283.6 193.6" stroke="#0000ff" stroke-width="1.9" fill="none" stroke-linejoin="round" />
<circle cx="299.7" cy="175.5" r="0.8" stroke="#0000ff" stroke-width="0.8" fill="#0000ff"/>
<path d="M283.6 182.2L290.6 186.4" stroke="#0000ff" stroke-width="1.5" fill="none" />
<text x="291.6" y="211.6" font-size="14.6" font-weight="bold" stroke="#0000ff" stroke-width="0.35" fill="#0000ff" text-anchor="middle" textLength="27.6" lengthAdjust="spacingAndGlyphs">LEVEL</text>
<path d="M240.6 291 L240.6 190.4 L246.6 186.9 M255.8 181.4 L297.6 157.5 M306.8 152 L348.9 127.8 M358 122.4 L386.4 105.9 L393.6 118.4" stroke="#000" stroke-width="2.9" fill="none" stroke-linejoin="miter"/>
<path d="M401.9 132.2 L388.6 118.6 L397.9 113.3 Z" fill="#000"/>
<path d="M240.6 301.8 L240.6 349.6 L255 349.6" stroke="#000" stroke-width="2.8" fill="none" stroke-linejoin="miter"/>
<path d="M270.6 349.6 L251.8 345.2 L251.8 354 Z" fill="#000"/>
<path d="M225.1 216.8Q225.1 214.3 227.6 214.3L253 214.3Q255.5 214.3 255.5 216.8L255.5 252.5Q255.5 255 253 255L227.6 255Q225.1 255 225.1 252.5Z" fill="none" stroke="#0000ff" stroke-width="1.2" stroke-linejoin="round"/>
<path d="M227.4 217.6 L253.2 217.6 L253.2 229 M227.4 217.6 L227.4 229" stroke="#0000ff" stroke-width="1.8" fill="none" stroke-linejoin="round" />
<path d="M229.4 219.6 L251.2 219.6" stroke="#0000ff" stroke-width="1" fill="none" stroke-linejoin="round" />
<path d="M228 229 L233.6 233.6 M253 229 L247.4 233.6" stroke="#0000ff" stroke-width="2.2" fill="none" stroke-linejoin="round" />
<path d="M230 234.6 L235.6 235.6 L234.6 230 Z M251 234.6 L245.4 235.6 L246.4 230 Z" stroke="#0000ff" stroke-width="0.8" fill="#0000ff" stroke-linejoin="round" />
<path d="M238.2 226.6 L242.8 226.6 L242.8 233 L246.2 233 L240.5 239 L234.8 233 L238.2 233 Z" stroke="#0000ff" stroke-width="1.1" fill="#fff" stroke-linejoin="round" />
<path d="M240.6 226 L240.6 232.4" stroke="#000" stroke-width="2.8"/>
<text x="240.6" y="252.9" font-size="15.4" font-weight="bold" stroke="#0000ff" stroke-width="0.35" fill="#0000ff" text-anchor="middle" textLength="28.4" lengthAdjust="spacingAndGlyphs">DRAIN</text>
<path d="M240.6 241.8 L240.6 253" stroke="#000" stroke-width="2.8"/>
<text x="365.9" y="100" font-size="31.4" fill="#000">A</text>
<text x="213.5" y="368.6" font-size="31.4" fill="#000">A</text>
<path d="M465.5 56.4L511.55 108.5" stroke="#fff" stroke-width="6.5" fill="none" />
<path d="M540.9 72.8L580.59 145.79" stroke="#fff" stroke-width="6.5" fill="none" />
<path d="M699 29.3L675.95 70.51" stroke="#fff" stroke-width="6.5" fill="none" />
<path d="M740.9 58.2L751.4 200.01" stroke="#fff" stroke-width="6.5" fill="none" />
<path d="M789.7 58.2L779.86 208.01" stroke="#fff" stroke-width="6.5" fill="none" />
<path d="M835 58.2L819.91 203.62" stroke="#fff" stroke-width="6.5" fill="none" />
<path d="M883 58.2L839.34 204.67" stroke="#fff" stroke-width="6.5" fill="none" />
<path d="M1037 258.4L891.32 356.27" stroke="#fff" stroke-width="6.5" fill="none" />
<path d="M1036 316L941.9 374.39" stroke="#fff" stroke-width="6.5" fill="none" />
<path d="M1024 374.6L954.44 386.81" stroke="#fff" stroke-width="6.5" fill="none" />
<path d="M1025 489.5L935.22 525.03" stroke="#fff" stroke-width="6.5" fill="none" />
<path d="M1027.2 602.3L950.8 644.47" stroke="#fff" stroke-width="6.5" fill="none" />
<path d="M1032.2 689.8L980.7 661.14" stroke="#fff" stroke-width="6.5" fill="none" />
<path d="M968 729L939.11 652.44" stroke="#fff" stroke-width="6.5" fill="none" />
<path d="M866.3 728.2L840.67 651.59" stroke="#fff" stroke-width="6.5" fill="none" />
<path d="M574.5 732.2L641.11 623.41" stroke="#fff" stroke-width="6.5" fill="none" />
<path d="M436 597.5L758.87 471.45" stroke="#fff" stroke-width="6.5" fill="none" />
<path d="M443 500.9L643.41 432.59" stroke="#fff" stroke-width="6.5" fill="none" />
<path d="M426.2 444.7L695.99 387.33" stroke="#fff" stroke-width="6.5" fill="none" />
<path d="M416 242L337.48 197.38" stroke="#fff" stroke-width="6.5" fill="none" />
<path d="M146.9 381L230 284.04" stroke="#fff" stroke-width="6.5" fill="none" />
<path d="M362.9 373.8L282.93 288.12" stroke="#fff" stroke-width="6.5" fill="none" />
<path d="M465.5 56.4L514.2 111.5" stroke="#000" stroke-width="2.3" fill="none" />
<path d="M540.9 72.8L582.5 149.3" stroke="#000" stroke-width="2.3" fill="none" />
<path d="M699 29.3L674 74" stroke="#000" stroke-width="2.3" fill="none" />
<path d="M740.9 58.2L751.7 204" stroke="#000" stroke-width="2.3" fill="none" />
<path d="M789.7 58.2L779.6 212" stroke="#000" stroke-width="2.3" fill="none" />
<path d="M835 58.2L819.5 207.6" stroke="#000" stroke-width="2.3" fill="none" />
<path d="M883 58.2L838.2 208.5" stroke="#000" stroke-width="2.3" fill="none" />
<path d="M1037 258.4L888 358.5" stroke="#000" stroke-width="2.3" fill="none" />
<path d="M1036 316L938.5 376.5" stroke="#000" stroke-width="2.3" fill="none" />
<path d="M1024 374.6L950.5 387.5" stroke="#000" stroke-width="2.3" fill="none" />
<path d="M1025 489.5L931.5 526.5" stroke="#000" stroke-width="2.3" fill="none" />
<path d="M1027.2 602.3L947.3 646.4" stroke="#000" stroke-width="2.3" fill="none" />
<path d="M1032.2 689.8L977.2 659.2" stroke="#000" stroke-width="2.3" fill="none" />
<path d="M968 729L937.7 648.7" stroke="#000" stroke-width="2.3" fill="none" />
<path d="M866.3 728.2L839.4 647.8" stroke="#000" stroke-width="2.3" fill="none" />
<path d="M574.5 732.2L643.2 620" stroke="#000" stroke-width="2.3" fill="none" />
<path d="M436 597.5L762.6 470" stroke="#000" stroke-width="2.3" fill="none" />
<path d="M443 500.9L647.2 431.3" stroke="#000" stroke-width="2.3" fill="none" />
<path d="M426.2 444.7L699.9 386.5" stroke="#000" stroke-width="2.3" fill="none" />
<path d="M416 242L334 195.4" stroke="#000" stroke-width="2.3" fill="none" />
<path d="M146.9 381L232.6 281" stroke="#000" stroke-width="2.3" fill="none" />
<path d="M362.9 373.8L280.2 285.2" stroke="#000" stroke-width="2.3" fill="none" />
<circle cx="465.5" cy="56.4" r="17.7" stroke="#000" stroke-width="2.4" fill="#fff"/>
<text x="465.5" y="63.8" font-size="18.8" font-weight="bold" fill="#000" text-anchor="middle" textLength="10" lengthAdjust="spacingAndGlyphs">4</text>
<circle cx="540.9" cy="72.8" r="17.7" stroke="#000" stroke-width="2.4" fill="#fff"/>
<text x="540.9" y="80.2" font-size="18.8" font-weight="bold" fill="#000" text-anchor="middle" textLength="20" lengthAdjust="spacingAndGlyphs">15</text>
<circle cx="699" cy="29.3" r="17.7" stroke="#000" stroke-width="2.4" fill="#fff"/>
<text x="699" y="36.7" font-size="18.8" font-weight="bold" fill="#000" text-anchor="middle" textLength="10" lengthAdjust="spacingAndGlyphs">2</text>
<circle cx="740.9" cy="58.2" r="17.7" stroke="#000" stroke-width="2.4" fill="#fff"/>
<text x="740.9" y="65.6" font-size="18.8" font-weight="bold" fill="#000" text-anchor="middle" textLength="10" lengthAdjust="spacingAndGlyphs">8</text>
<circle cx="789.7" cy="58.2" r="17.7" stroke="#000" stroke-width="2.4" fill="#fff"/>
<text x="789.7" y="65.6" font-size="18.8" font-weight="bold" fill="#000" text-anchor="middle" textLength="20" lengthAdjust="spacingAndGlyphs">10</text>
<circle cx="835" cy="58.2" r="17.7" stroke="#000" stroke-width="2.4" fill="#fff"/>
<text x="835" y="65.6" font-size="18.8" font-weight="bold" fill="#000" text-anchor="middle" textLength="20" lengthAdjust="spacingAndGlyphs">16</text>
<circle cx="883" cy="58.2" r="17.7" stroke="#000" stroke-width="2.4" fill="#fff"/>
<text x="883" y="65.6" font-size="18.8" font-weight="bold" fill="#000" text-anchor="middle" textLength="20" lengthAdjust="spacingAndGlyphs">13</text>
<circle cx="1037" cy="258.4" r="17.7" stroke="#000" stroke-width="2.4" fill="#fff"/>
<text x="1037" y="265.8" font-size="18.8" font-weight="bold" fill="#000" text-anchor="middle" textLength="20" lengthAdjust="spacingAndGlyphs">18</text>
<circle cx="1036" cy="316" r="17.7" stroke="#000" stroke-width="2.4" fill="#fff"/>
<text x="1036" y="323.4" font-size="18.8" font-weight="bold" fill="#000" text-anchor="middle" textLength="20" lengthAdjust="spacingAndGlyphs">21</text>
<circle cx="1024" cy="374.6" r="17.7" stroke="#000" stroke-width="2.4" fill="#fff"/>
<text x="1024" y="382" font-size="18.8" font-weight="bold" fill="#000" text-anchor="middle" textLength="10" lengthAdjust="spacingAndGlyphs">1</text>
<circle cx="1025" cy="489.5" r="17.7" stroke="#000" stroke-width="2.4" fill="#fff"/>
<text x="1025" y="496.9" font-size="18.8" font-weight="bold" fill="#000" text-anchor="middle" textLength="20" lengthAdjust="spacingAndGlyphs">11</text>
<circle cx="1027.2" cy="602.3" r="17.7" stroke="#000" stroke-width="2.4" fill="#fff"/>
<text x="1027.2" y="609.7" font-size="18.8" font-weight="bold" fill="#000" text-anchor="middle" textLength="20" lengthAdjust="spacingAndGlyphs">14</text>
<circle cx="1032.2" cy="689.8" r="17.7" stroke="#000" stroke-width="2.4" fill="#fff"/>
<text x="1032.2" y="697.2" font-size="18.8" font-weight="bold" fill="#000" text-anchor="middle" textLength="10" lengthAdjust="spacingAndGlyphs">3</text>
<circle cx="968" cy="729" r="17.7" stroke="#000" stroke-width="2.4" fill="#fff"/>
<text x="968" y="736.4" font-size="18.8" font-weight="bold" fill="#000" text-anchor="middle" textLength="10" lengthAdjust="spacingAndGlyphs">6</text>
<circle cx="866.3" cy="728.2" r="17.7" stroke="#000" stroke-width="2.4" fill="#fff"/>
<text x="866.3" y="735.6" font-size="18.8" font-weight="bold" fill="#000" text-anchor="middle" textLength="10" lengthAdjust="spacingAndGlyphs">7</text>
<circle cx="574.5" cy="732.2" r="17.7" stroke="#000" stroke-width="2.4" fill="#fff"/>
<text x="574.5" y="739.6" font-size="18.8" font-weight="bold" fill="#000" text-anchor="middle" textLength="20" lengthAdjust="spacingAndGlyphs">17</text>
<circle cx="436" cy="597.5" r="17.7" stroke="#000" stroke-width="2.4" fill="#fff"/>
<text x="436" y="604.9" font-size="18.8" font-weight="bold" fill="#000" text-anchor="middle" textLength="10" lengthAdjust="spacingAndGlyphs">9</text>
<circle cx="443" cy="500.9" r="17.7" stroke="#000" stroke-width="2.4" fill="#fff"/>
<text x="443" y="508.3" font-size="18.8" font-weight="bold" fill="#000" text-anchor="middle" textLength="10" lengthAdjust="spacingAndGlyphs">5</text>
<circle cx="426.2" cy="444.7" r="17.7" stroke="#000" stroke-width="2.4" fill="#fff"/>
<text x="426.2" y="452.1" font-size="18.8" font-weight="bold" fill="#000" text-anchor="middle" textLength="20" lengthAdjust="spacingAndGlyphs">12</text>
<circle cx="416" cy="242" r="17.7" stroke="#000" stroke-width="2.4" fill="#fff"/>
<text x="416" y="249.4" font-size="18.8" font-weight="bold" fill="#000" text-anchor="middle" textLength="20" lengthAdjust="spacingAndGlyphs">19</text>
<circle cx="146.9" cy="381" r="17.7" stroke="#000" stroke-width="2.4" fill="#fff"/>
<text x="146.9" y="388.4" font-size="18.8" font-weight="bold" fill="#000" text-anchor="middle" textLength="20" lengthAdjust="spacingAndGlyphs">19</text>
<circle cx="362.9" cy="373.8" r="17.7" stroke="#000" stroke-width="2.4" fill="#fff"/>
<text x="362.9" y="381.2" font-size="18.8" font-weight="bold" fill="#000" text-anchor="middle" textLength="20" lengthAdjust="spacingAndGlyphs">20</text>
<text x="777" y="789" font-size="16.7" fill="#000">SECTION A-A</text>
</svg>
</body></html>
